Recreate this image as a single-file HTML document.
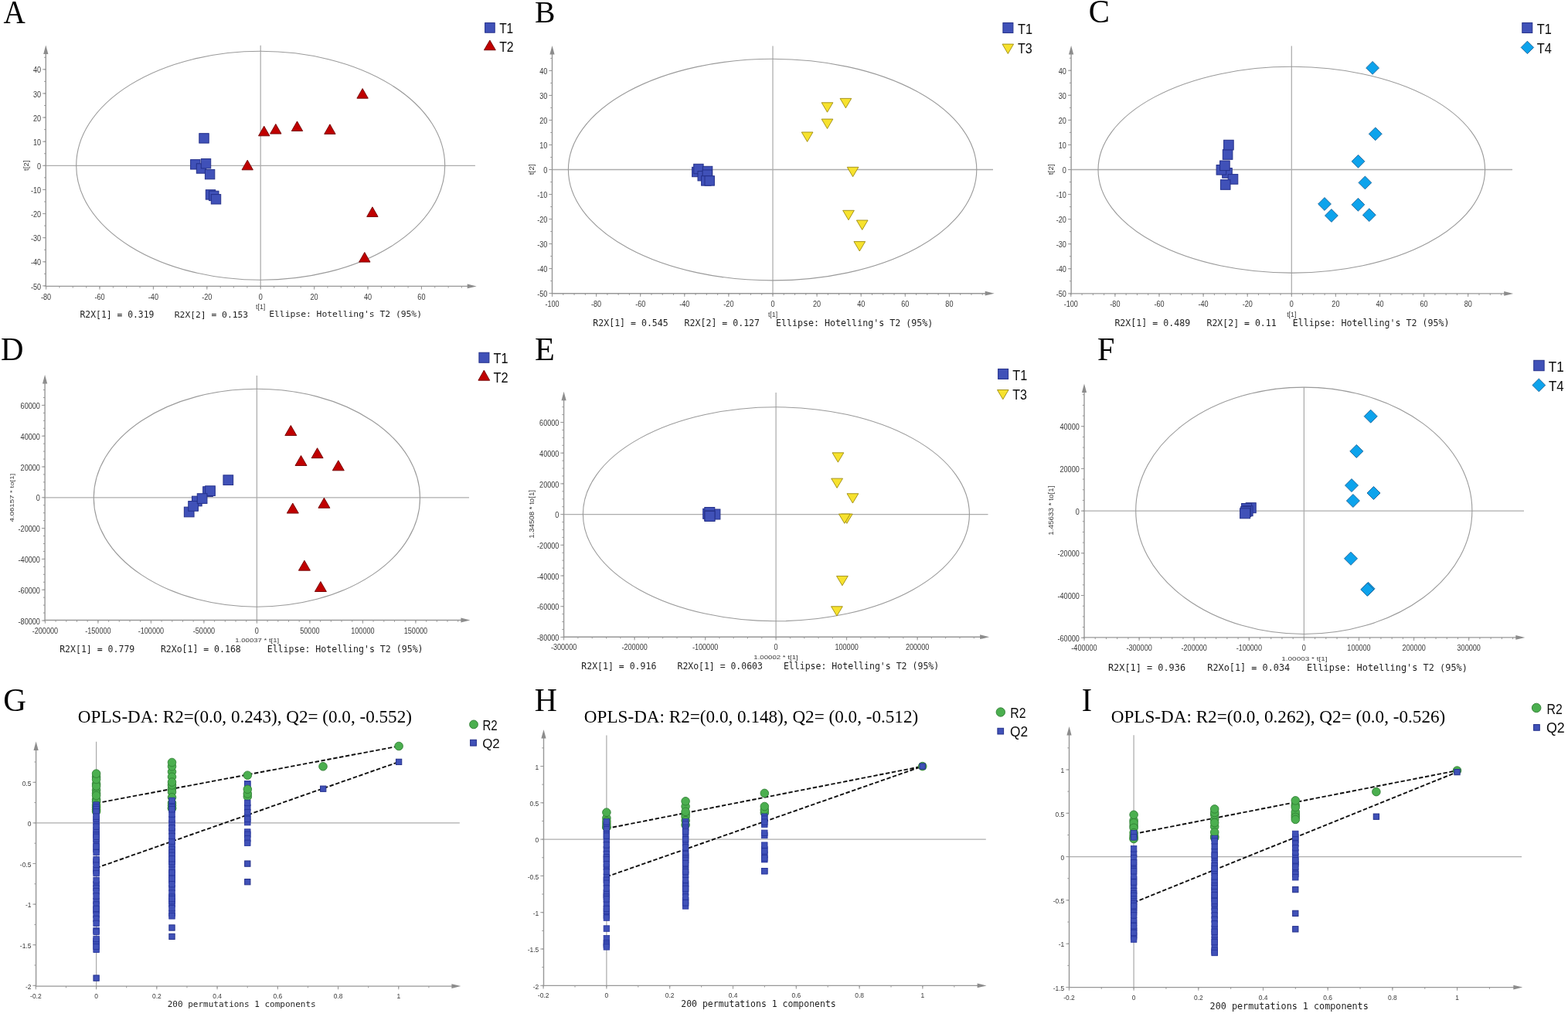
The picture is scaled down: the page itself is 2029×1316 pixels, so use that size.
<!DOCTYPE html><html><head><meta charset="utf-8"><style>html,body{margin:0;padding:0;background:#fff;}svg{display:block;}</style></head><body>
<svg width="2029" height="1316" viewBox="0 0 2029 1316">
<defs><filter id="soft" x="0" y="0" width="1" height="1" filterUnits="objectBoundingBox"><feGaussianBlur stdDeviation="0.4"/></filter></defs>
<rect width="2029" height="1316" fill="#ffffff"/>
<g filter="url(#soft)">
<rect width="2029" height="1316" fill="#ffffff"/>
<text transform="translate(4.61 29.5) scale(0.9430 1)" font-size="41.515" font-family="'Liberation Serif', 'Times New Roman', serif" fill="#000">A</text>
<text transform="translate(691.91 29.1) scale(0.9695 1)" font-size="40.909" font-family="'Liberation Serif', 'Times New Roman', serif" fill="#000">B</text>
<text transform="translate(1408.87 29.18) scale(0.9774 1)" font-size="41.642" font-family="'Liberation Serif', 'Times New Roman', serif" fill="#000">C</text>
<text transform="translate(0.98 465.8) scale(0.9709 1)" font-size="41.985" font-family="'Liberation Serif', 'Times New Roman', serif" fill="#000">D</text>
<text transform="translate(691.93 465.6) scale(1.0215 1)" font-size="41.374" font-family="'Liberation Serif', 'Times New Roman', serif" fill="#000">E</text>
<text transform="translate(1419.89 465.8) scale(0.9576 1)" font-size="41.985" font-family="'Liberation Serif', 'Times New Roman', serif" fill="#000">F</text>
<text transform="translate(4.25 919.69) scale(0.9937 1)" font-size="41.493" font-family="'Liberation Serif', 'Times New Roman', serif" fill="#000">G</text>
<text transform="translate(691.79 919.8) scale(0.9599 1)" font-size="41.985" font-family="'Liberation Serif', 'Times New Roman', serif" fill="#000">H</text>
<text transform="translate(1399.8 919.6) scale(0.9597 1)" font-size="41.679" font-family="'Liberation Serif', 'Times New Roman', serif" fill="#000">I</text>
<line x1="337.2" y1="58.8" x2="337.2" y2="370.4" stroke="#acacac" stroke-width="1.25"/>
<line x1="59.3" y1="214.3" x2="614.9" y2="214.3" stroke="#acacac" stroke-width="1.35"/>
<line x1="59.3" y1="65.8" x2="59.3" y2="371" stroke="#979797" stroke-width="1.4"/>
<line x1="58.7" y1="370.4" x2="608.9" y2="370.4" stroke="#979797" stroke-width="1.4"/>
<polygon points="59.3,58.6 62.4,70.1 56.2,70.1" fill="#8c8c8c"/>
<polygon points="616.7,370.4 604.7,367.5 604.7,373.3" fill="#8c8c8c"/>
<path d="M57.1 369.9H59.3M57.1 354.34H59.3M57.1 338.78H59.3M57.1 323.22H59.3M57.1 307.66H59.3M57.1 292.1H59.3M57.1 276.54H59.3M57.1 260.98H59.3M57.1 245.42H59.3M57.1 229.86H59.3M57.1 214.3H59.3M57.1 198.74H59.3M57.1 183.18H59.3M57.1 167.62H59.3M57.1 152.06H59.3M57.1 136.5H59.3M57.1 120.94H59.3M57.1 105.38H59.3M57.1 89.82H59.3M57.1 74.26H59.3M55.1 369.9H59.3M55.1 338.78H59.3M55.1 307.66H59.3M55.1 276.54H59.3M55.1 245.42H59.3M55.1 214.3H59.3M55.1 183.18H59.3M55.1 152.06H59.3M55.1 120.94H59.3M55.1 89.82H59.3M59.6 370.4V372.6M76.95 370.4V372.6M94.3 370.4V372.6M111.65 370.4V372.6M129 370.4V372.6M146.35 370.4V372.6M163.7 370.4V372.6M181.05 370.4V372.6M198.4 370.4V372.6M215.75 370.4V372.6M233.1 370.4V372.6M250.45 370.4V372.6M267.8 370.4V372.6M285.15 370.4V372.6M302.5 370.4V372.6M319.85 370.4V372.6M337.2 370.4V372.6M354.55 370.4V372.6M371.9 370.4V372.6M389.25 370.4V372.6M406.6 370.4V372.6M423.95 370.4V372.6M441.3 370.4V372.6M458.65 370.4V372.6M476 370.4V372.6M493.35 370.4V372.6M510.7 370.4V372.6M528.05 370.4V372.6M545.4 370.4V372.6M562.75 370.4V372.6M580.1 370.4V372.6M597.45 370.4V372.6M59.6 370.4V374.6M129 370.4V374.6M198.4 370.4V374.6M267.8 370.4V374.6M337.2 370.4V374.6M406.6 370.4V374.6M476 370.4V374.6M545.4 370.4V374.6" stroke="#979797" stroke-width="1" fill="none"/>
<text transform="translate(53.1 374.5) scale(0.91 1)" font-size="10.0" font-family="'Liberation Sans', 'DejaVu Sans', sans-serif" text-anchor="end" fill="#3a3a3a">-50</text>
<text transform="translate(53.1 343.38) scale(0.91 1)" font-size="10.0" font-family="'Liberation Sans', 'DejaVu Sans', sans-serif" text-anchor="end" fill="#3a3a3a">-40</text>
<text transform="translate(53.1 312.26) scale(0.91 1)" font-size="10.0" font-family="'Liberation Sans', 'DejaVu Sans', sans-serif" text-anchor="end" fill="#3a3a3a">-30</text>
<text transform="translate(53.1 281.14) scale(0.91 1)" font-size="10.0" font-family="'Liberation Sans', 'DejaVu Sans', sans-serif" text-anchor="end" fill="#3a3a3a">-20</text>
<text transform="translate(53.1 250.02) scale(0.91 1)" font-size="10.0" font-family="'Liberation Sans', 'DejaVu Sans', sans-serif" text-anchor="end" fill="#3a3a3a">-10</text>
<text transform="translate(53.1 218.9) scale(0.91 1)" font-size="10.0" font-family="'Liberation Sans', 'DejaVu Sans', sans-serif" text-anchor="end" fill="#3a3a3a">0</text>
<text transform="translate(53.1 187.78) scale(0.91 1)" font-size="10.0" font-family="'Liberation Sans', 'DejaVu Sans', sans-serif" text-anchor="end" fill="#3a3a3a">10</text>
<text transform="translate(53.1 156.66) scale(0.91 1)" font-size="10.0" font-family="'Liberation Sans', 'DejaVu Sans', sans-serif" text-anchor="end" fill="#3a3a3a">20</text>
<text transform="translate(53.1 125.54) scale(0.91 1)" font-size="10.0" font-family="'Liberation Sans', 'DejaVu Sans', sans-serif" text-anchor="end" fill="#3a3a3a">30</text>
<text transform="translate(53.1 94.42) scale(0.91 1)" font-size="10.0" font-family="'Liberation Sans', 'DejaVu Sans', sans-serif" text-anchor="end" fill="#3a3a3a">40</text>
<text transform="translate(59.6 387.55) scale(0.91 1)" font-size="10.0" font-family="'Liberation Sans', 'DejaVu Sans', sans-serif" text-anchor="middle" fill="#3a3a3a">-80</text>
<text transform="translate(129 387.55) scale(0.91 1)" font-size="10.0" font-family="'Liberation Sans', 'DejaVu Sans', sans-serif" text-anchor="middle" fill="#3a3a3a">-60</text>
<text transform="translate(198.4 387.55) scale(0.91 1)" font-size="10.0" font-family="'Liberation Sans', 'DejaVu Sans', sans-serif" text-anchor="middle" fill="#3a3a3a">-40</text>
<text transform="translate(267.8 387.55) scale(0.91 1)" font-size="10.0" font-family="'Liberation Sans', 'DejaVu Sans', sans-serif" text-anchor="middle" fill="#3a3a3a">-20</text>
<text transform="translate(337.2 387.55) scale(0.91 1)" font-size="10.0" font-family="'Liberation Sans', 'DejaVu Sans', sans-serif" text-anchor="middle" fill="#3a3a3a">0</text>
<text transform="translate(406.6 387.55) scale(0.91 1)" font-size="10.0" font-family="'Liberation Sans', 'DejaVu Sans', sans-serif" text-anchor="middle" fill="#3a3a3a">20</text>
<text transform="translate(476 387.55) scale(0.91 1)" font-size="10.0" font-family="'Liberation Sans', 'DejaVu Sans', sans-serif" text-anchor="middle" fill="#3a3a3a">40</text>
<text transform="translate(545.4 387.55) scale(0.91 1)" font-size="10.0" font-family="'Liberation Sans', 'DejaVu Sans', sans-serif" text-anchor="middle" fill="#3a3a3a">60</text>
<ellipse cx="337.2" cy="214.3" rx="238.5" ry="148" fill="none" stroke="#9a9a9a" stroke-width="1.1"/>
<rect x="246.6" y="206.6" width="12.4" height="12.4" fill="#3f51b8" stroke="#25318a" stroke-width="1"/>
<rect x="254.3" y="211.8" width="12.4" height="12.4" fill="#3f51b8" stroke="#25318a" stroke-width="1"/>
<rect x="260.3" y="205.5" width="12.4" height="12.4" fill="#3f51b8" stroke="#25318a" stroke-width="1"/>
<rect x="265.4" y="219.4" width="12.4" height="12.4" fill="#3f51b8" stroke="#25318a" stroke-width="1"/>
<rect x="257.8" y="172.7" width="12.4" height="12.4" fill="#3f51b8" stroke="#25318a" stroke-width="1"/>
<rect x="266.3" y="245.7" width="12.4" height="12.4" fill="#3f51b8" stroke="#25318a" stroke-width="1"/>
<rect x="270.6" y="247.2" width="12.4" height="12.4" fill="#3f51b8" stroke="#25318a" stroke-width="1"/>
<rect x="273.3" y="251.6" width="12.4" height="12.4" fill="#3f51b8" stroke="#25318a" stroke-width="1"/>
<polygon points="469.1,114.6 476.3,127.2 461.9,127.2" fill="#c00000" stroke="#6e0000" stroke-width="0.9" stroke-linejoin="miter"/>
<polygon points="341.7,163.2 348.9,175.8 334.5,175.8" fill="#c00000" stroke="#6e0000" stroke-width="0.9" stroke-linejoin="miter"/>
<polygon points="356.8,160.5 364,173.1 349.6,173.1" fill="#c00000" stroke="#6e0000" stroke-width="0.9" stroke-linejoin="miter"/>
<polygon points="384.5,156.9 391.7,169.5 377.3,169.5" fill="#c00000" stroke="#6e0000" stroke-width="0.9" stroke-linejoin="miter"/>
<polygon points="426.9,160.8 434.1,173.4 419.7,173.4" fill="#c00000" stroke="#6e0000" stroke-width="0.9" stroke-linejoin="miter"/>
<polygon points="320.2,207.2 327.4,219.8 313,219.8" fill="#c00000" stroke="#6e0000" stroke-width="0.9" stroke-linejoin="miter"/>
<polygon points="481.9,267.8 489.1,280.4 474.7,280.4" fill="#c00000" stroke="#6e0000" stroke-width="0.9" stroke-linejoin="miter"/>
<polygon points="471.8,326.5 479,339.1 464.6,339.1" fill="#c00000" stroke="#6e0000" stroke-width="0.9" stroke-linejoin="miter"/>
<g transform="rotate(-90)"><text transform="translate(-220.95 36.56) scale(1.1139 1)" font-size="8.770" font-family="'Liberation Sans', 'DejaVu Sans', sans-serif" fill="#3a3a3a">t[2]</text></g>
<text x="337.2" y="400.3" font-size="8.8" font-family="'Liberation Sans', 'DejaVu Sans', sans-serif" text-anchor="middle" fill="#3a3a3a">t[1]</text>
<text x="103.5" y="410.5" font-size="11.399" font-family="'DejaVu Sans Mono', 'Liberation Mono', monospace" fill="#1e1e1e">R2X[1] = 0.319</text>
<text x="225.81" y="410.5" font-size="11.329" font-family="'DejaVu Sans Mono', 'Liberation Mono', monospace" fill="#1e1e1e">R2X[2] = 0.153</text>
<text x="348.22" y="410.4" font-size="11.338" font-family="'DejaVu Sans Mono', 'Liberation Mono', monospace" fill="#1e1e1e">Ellipse: Hotelling's T2 (95%)</text>
<rect x="627.6" y="29.6" width="12.6" height="12.6" fill="#3f51b8" stroke="#25318a" stroke-width="1"/>
<text transform="translate(646.19 43.2) scale(0.8741 1)" font-size="17.681" font-family="'Liberation Sans', 'DejaVu Sans', sans-serif" fill="#0a0a0a">T1</text>
<polygon points="633.85,52.05 641.3,64.75 626.4,64.75" fill="#c00000" stroke="#6e0000" stroke-width="0.9" stroke-linejoin="miter"/>
<text transform="translate(646.18 67.2) scale(0.8847 1)" font-size="17.857" font-family="'Liberation Sans', 'DejaVu Sans', sans-serif" fill="#0a0a0a">T2</text>
<line x1="1000" y1="59.6" x2="1000" y2="379.7" stroke="#acacac" stroke-width="1.25"/>
<line x1="714.5" y1="219.5" x2="1285" y2="219.5" stroke="#acacac" stroke-width="1.35"/>
<line x1="714.5" y1="66.3" x2="714.5" y2="380.3" stroke="#979797" stroke-width="1.4"/>
<line x1="713.9" y1="379.7" x2="1278.9" y2="379.7" stroke="#979797" stroke-width="1.4"/>
<polygon points="714.5,59.1 717.6,70.6 711.4,70.6" fill="#8c8c8c"/>
<polygon points="1286.7,379.7 1274.7,376.8 1274.7,382.6" fill="#8c8c8c"/>
<path d="M712.3 379.6H714.5M712.3 363.59H714.5M712.3 347.58H714.5M712.3 331.57H714.5M712.3 315.56H714.5M712.3 299.55H714.5M712.3 283.54H714.5M712.3 267.53H714.5M712.3 251.52H714.5M712.3 235.51H714.5M712.3 219.5H714.5M712.3 203.49H714.5M712.3 187.48H714.5M712.3 171.47H714.5M712.3 155.46H714.5M712.3 139.45H714.5M712.3 123.44H714.5M712.3 107.43H714.5M712.3 91.42H714.5M712.3 75.41H714.5M710.3 379.6H714.5M710.3 347.58H714.5M710.3 315.56H714.5M710.3 283.54H714.5M710.3 251.52H714.5M710.3 219.5H714.5M710.3 187.48H714.5M710.3 155.46H714.5M710.3 123.44H714.5M710.3 91.42H714.5M714.5 379.7V381.9M728.77 379.7V381.9M743.05 379.7V381.9M757.33 379.7V381.9M771.6 379.7V381.9M785.88 379.7V381.9M800.15 379.7V381.9M814.42 379.7V381.9M828.7 379.7V381.9M842.98 379.7V381.9M857.25 379.7V381.9M871.52 379.7V381.9M885.8 379.7V381.9M900.08 379.7V381.9M914.35 379.7V381.9M928.62 379.7V381.9M942.9 379.7V381.9M957.17 379.7V381.9M971.45 379.7V381.9M985.73 379.7V381.9M1000 379.7V381.9M1014.27 379.7V381.9M1028.55 379.7V381.9M1042.83 379.7V381.9M1057.1 379.7V381.9M1071.38 379.7V381.9M1085.65 379.7V381.9M1099.92 379.7V381.9M1114.2 379.7V381.9M1128.47 379.7V381.9M1142.75 379.7V381.9M1157.03 379.7V381.9M1171.3 379.7V381.9M1185.58 379.7V381.9M1199.85 379.7V381.9M1214.12 379.7V381.9M1228.4 379.7V381.9M1242.67 379.7V381.9M1256.95 379.7V381.9M1271.22 379.7V381.9M714.5 379.7V383.9M771.6 379.7V383.9M828.7 379.7V383.9M885.8 379.7V383.9M942.9 379.7V383.9M1000 379.7V383.9M1057.1 379.7V383.9M1114.2 379.7V383.9M1171.3 379.7V383.9M1228.4 379.7V383.9" stroke="#979797" stroke-width="1" fill="none"/>
<text transform="translate(708.3 384.2) scale(0.91 1)" font-size="10.0" font-family="'Liberation Sans', 'DejaVu Sans', sans-serif" text-anchor="end" fill="#3a3a3a">-50</text>
<text transform="translate(708.3 352.18) scale(0.91 1)" font-size="10.0" font-family="'Liberation Sans', 'DejaVu Sans', sans-serif" text-anchor="end" fill="#3a3a3a">-40</text>
<text transform="translate(708.3 320.16) scale(0.91 1)" font-size="10.0" font-family="'Liberation Sans', 'DejaVu Sans', sans-serif" text-anchor="end" fill="#3a3a3a">-30</text>
<text transform="translate(708.3 288.14) scale(0.91 1)" font-size="10.0" font-family="'Liberation Sans', 'DejaVu Sans', sans-serif" text-anchor="end" fill="#3a3a3a">-20</text>
<text transform="translate(708.3 256.12) scale(0.91 1)" font-size="10.0" font-family="'Liberation Sans', 'DejaVu Sans', sans-serif" text-anchor="end" fill="#3a3a3a">-10</text>
<text transform="translate(708.3 224.1) scale(0.91 1)" font-size="10.0" font-family="'Liberation Sans', 'DejaVu Sans', sans-serif" text-anchor="end" fill="#3a3a3a">0</text>
<text transform="translate(708.3 192.08) scale(0.91 1)" font-size="10.0" font-family="'Liberation Sans', 'DejaVu Sans', sans-serif" text-anchor="end" fill="#3a3a3a">10</text>
<text transform="translate(708.3 160.06) scale(0.91 1)" font-size="10.0" font-family="'Liberation Sans', 'DejaVu Sans', sans-serif" text-anchor="end" fill="#3a3a3a">20</text>
<text transform="translate(708.3 128.04) scale(0.91 1)" font-size="10.0" font-family="'Liberation Sans', 'DejaVu Sans', sans-serif" text-anchor="end" fill="#3a3a3a">30</text>
<text transform="translate(708.3 96.02) scale(0.91 1)" font-size="10.0" font-family="'Liberation Sans', 'DejaVu Sans', sans-serif" text-anchor="end" fill="#3a3a3a">40</text>
<text transform="translate(714.5 396.85) scale(0.91 1)" font-size="10.0" font-family="'Liberation Sans', 'DejaVu Sans', sans-serif" text-anchor="middle" fill="#3a3a3a">-100</text>
<text transform="translate(771.6 396.85) scale(0.91 1)" font-size="10.0" font-family="'Liberation Sans', 'DejaVu Sans', sans-serif" text-anchor="middle" fill="#3a3a3a">-80</text>
<text transform="translate(828.7 396.85) scale(0.91 1)" font-size="10.0" font-family="'Liberation Sans', 'DejaVu Sans', sans-serif" text-anchor="middle" fill="#3a3a3a">-60</text>
<text transform="translate(885.8 396.85) scale(0.91 1)" font-size="10.0" font-family="'Liberation Sans', 'DejaVu Sans', sans-serif" text-anchor="middle" fill="#3a3a3a">-40</text>
<text transform="translate(942.9 396.85) scale(0.91 1)" font-size="10.0" font-family="'Liberation Sans', 'DejaVu Sans', sans-serif" text-anchor="middle" fill="#3a3a3a">-20</text>
<text transform="translate(1000 396.85) scale(0.91 1)" font-size="10.0" font-family="'Liberation Sans', 'DejaVu Sans', sans-serif" text-anchor="middle" fill="#3a3a3a">0</text>
<text transform="translate(1057.1 396.85) scale(0.91 1)" font-size="10.0" font-family="'Liberation Sans', 'DejaVu Sans', sans-serif" text-anchor="middle" fill="#3a3a3a">20</text>
<text transform="translate(1114.2 396.85) scale(0.91 1)" font-size="10.0" font-family="'Liberation Sans', 'DejaVu Sans', sans-serif" text-anchor="middle" fill="#3a3a3a">40</text>
<text transform="translate(1171.3 396.85) scale(0.91 1)" font-size="10.0" font-family="'Liberation Sans', 'DejaVu Sans', sans-serif" text-anchor="middle" fill="#3a3a3a">60</text>
<text transform="translate(1228.4 396.85) scale(0.91 1)" font-size="10.0" font-family="'Liberation Sans', 'DejaVu Sans', sans-serif" text-anchor="middle" fill="#3a3a3a">80</text>
<ellipse cx="999.6" cy="219.6" rx="264.2" ry="143.3" fill="none" stroke="#9a9a9a" stroke-width="1.1"/>
<rect x="895.6" y="216.3" width="12.4" height="12.4" fill="#3f51b8" stroke="#25318a" stroke-width="1"/>
<rect x="897.7" y="212.3" width="12.4" height="12.4" fill="#3f51b8" stroke="#25318a" stroke-width="1"/>
<rect x="903" y="221.5" width="12.4" height="12.4" fill="#3f51b8" stroke="#25318a" stroke-width="1"/>
<rect x="909.4" y="215.3" width="12.4" height="12.4" fill="#3f51b8" stroke="#25318a" stroke-width="1"/>
<rect x="909.1" y="219.9" width="12.4" height="12.4" fill="#3f51b8" stroke="#25318a" stroke-width="1"/>
<rect x="907.6" y="227.7" width="12.4" height="12.4" fill="#3f51b8" stroke="#25318a" stroke-width="1"/>
<rect x="912" y="227.7" width="12.4" height="12.4" fill="#3f51b8" stroke="#25318a" stroke-width="1"/>
<polygon points="1063.15,132.8 1077.85,132.8 1070.5,145.2" fill="#f7e22e" stroke="#9c8a12" stroke-width="0.9"/>
<polygon points="1087.05,127.4 1101.75,127.4 1094.4,139.8" fill="#f7e22e" stroke="#9c8a12" stroke-width="0.9"/>
<polygon points="1063.15,154.1 1077.85,154.1 1070.5,166.5" fill="#f7e22e" stroke="#9c8a12" stroke-width="0.9"/>
<polygon points="1037.25,171 1051.95,171 1044.6,183.4" fill="#f7e22e" stroke="#9c8a12" stroke-width="0.9"/>
<polygon points="1096.25,216.3 1110.95,216.3 1103.6,228.7" fill="#f7e22e" stroke="#9c8a12" stroke-width="0.9"/>
<polygon points="1090.65,272.3 1105.35,272.3 1098,284.7" fill="#f7e22e" stroke="#9c8a12" stroke-width="0.9"/>
<polygon points="1108.35,285 1123.05,285 1115.7,297.4" fill="#f7e22e" stroke="#9c8a12" stroke-width="0.9"/>
<polygon points="1104.95,312.6 1119.65,312.6 1112.3,325" fill="#f7e22e" stroke="#9c8a12" stroke-width="0.9"/>
<g transform="rotate(-90)"><text transform="translate(-226.25 690.71) scale(1.1302 1)" font-size="8.984" font-family="'Liberation Sans', 'DejaVu Sans', sans-serif" fill="#3a3a3a">t[2]</text></g>
<text x="1000" y="409.9" font-size="8.8" font-family="'Liberation Sans', 'DejaVu Sans', sans-serif" text-anchor="middle" fill="#3a3a3a">t[1]</text>
<text x="767.29" y="421.6" font-size="11.577" font-family="'DejaVu Sans Mono', 'Liberation Mono', monospace" fill="#1e1e1e">R2X[1] = 0.545</text>
<text x="885.59" y="421.6" font-size="11.570" font-family="'DejaVu Sans Mono', 'Liberation Mono', monospace" fill="#1e1e1e">R2X[2] = 0.127</text>
<text x="1003.89" y="421.6" font-size="11.670" font-family="'DejaVu Sans Mono', 'Liberation Mono', monospace" fill="#1e1e1e">Ellipse: Hotelling's T2 (95%)</text>
<rect x="1297.9" y="29.55" width="13" height="13" fill="#3f51b8" stroke="#25318a" stroke-width="1"/>
<text transform="translate(1316.97 43.6) scale(0.8961 1)" font-size="18.261" font-family="'Liberation Sans', 'DejaVu Sans', sans-serif" fill="#0a0a0a">T1</text>
<polygon points="1297,57.1 1311.6,57.1 1304.3,69.5" fill="#f7e22e" stroke="#9c8a12" stroke-width="0.9"/>
<text transform="translate(1316.98 68.71) scale(0.8599 1)" font-size="18.732" font-family="'Liberation Sans', 'DejaVu Sans', sans-serif" fill="#0a0a0a">T3</text>
<line x1="1671.3" y1="59.6" x2="1671.3" y2="379.9" stroke="#acacac" stroke-width="1.25"/>
<line x1="1386.1" y1="219.5" x2="1957" y2="219.5" stroke="#acacac" stroke-width="1.35"/>
<line x1="1386.1" y1="66.2" x2="1386.1" y2="380.5" stroke="#979797" stroke-width="1.4"/>
<line x1="1385.5" y1="379.9" x2="1950.4" y2="379.9" stroke="#979797" stroke-width="1.4"/>
<polygon points="1386.1,59 1389.2,70.5 1383,70.5" fill="#8c8c8c"/>
<polygon points="1958.2,379.9 1946.2,377 1946.2,382.8" fill="#8c8c8c"/>
<path d="M1383.9 379.85H1386.1M1383.9 363.81H1386.1M1383.9 347.78H1386.1M1383.9 331.75H1386.1M1383.9 315.71H1386.1M1383.9 299.68H1386.1M1383.9 283.64H1386.1M1383.9 267.61H1386.1M1383.9 251.57H1386.1M1383.9 235.53H1386.1M1383.9 219.5H1386.1M1383.9 203.47H1386.1M1383.9 187.43H1386.1M1383.9 171.4H1386.1M1383.9 155.36H1386.1M1383.9 139.32H1386.1M1383.9 123.29H1386.1M1383.9 107.26H1386.1M1383.9 91.22H1386.1M1383.9 75.19H1386.1M1381.9 379.85H1386.1M1381.9 347.78H1386.1M1381.9 315.71H1386.1M1381.9 283.64H1386.1M1381.9 251.57H1386.1M1381.9 219.5H1386.1M1381.9 187.43H1386.1M1381.9 155.36H1386.1M1381.9 123.29H1386.1M1381.9 91.22H1386.1M1385.8 379.9V382.1M1400.07 379.9V382.1M1414.35 379.9V382.1M1428.62 379.9V382.1M1442.9 379.9V382.1M1457.17 379.9V382.1M1471.45 379.9V382.1M1485.72 379.9V382.1M1500 379.9V382.1M1514.27 379.9V382.1M1528.55 379.9V382.1M1542.83 379.9V382.1M1557.1 379.9V382.1M1571.38 379.9V382.1M1585.65 379.9V382.1M1599.92 379.9V382.1M1614.2 379.9V382.1M1628.47 379.9V382.1M1642.75 379.9V382.1M1657.02 379.9V382.1M1671.3 379.9V382.1M1685.58 379.9V382.1M1699.85 379.9V382.1M1714.12 379.9V382.1M1728.4 379.9V382.1M1742.67 379.9V382.1M1756.95 379.9V382.1M1771.22 379.9V382.1M1785.5 379.9V382.1M1799.77 379.9V382.1M1814.05 379.9V382.1M1828.33 379.9V382.1M1842.6 379.9V382.1M1856.88 379.9V382.1M1871.15 379.9V382.1M1885.42 379.9V382.1M1899.7 379.9V382.1M1913.97 379.9V382.1M1928.25 379.9V382.1M1942.53 379.9V382.1M1385.8 379.9V384.1M1442.9 379.9V384.1M1500 379.9V384.1M1557.1 379.9V384.1M1614.2 379.9V384.1M1671.3 379.9V384.1M1728.4 379.9V384.1M1785.5 379.9V384.1M1842.6 379.9V384.1M1899.7 379.9V384.1" stroke="#979797" stroke-width="1" fill="none"/>
<text transform="translate(1379.9 384.45) scale(0.91 1)" font-size="10.0" font-family="'Liberation Sans', 'DejaVu Sans', sans-serif" text-anchor="end" fill="#3a3a3a">-50</text>
<text transform="translate(1379.9 352.38) scale(0.91 1)" font-size="10.0" font-family="'Liberation Sans', 'DejaVu Sans', sans-serif" text-anchor="end" fill="#3a3a3a">-40</text>
<text transform="translate(1379.9 320.31) scale(0.91 1)" font-size="10.0" font-family="'Liberation Sans', 'DejaVu Sans', sans-serif" text-anchor="end" fill="#3a3a3a">-30</text>
<text transform="translate(1379.9 288.24) scale(0.91 1)" font-size="10.0" font-family="'Liberation Sans', 'DejaVu Sans', sans-serif" text-anchor="end" fill="#3a3a3a">-20</text>
<text transform="translate(1379.9 256.17) scale(0.91 1)" font-size="10.0" font-family="'Liberation Sans', 'DejaVu Sans', sans-serif" text-anchor="end" fill="#3a3a3a">-10</text>
<text transform="translate(1379.9 224.1) scale(0.91 1)" font-size="10.0" font-family="'Liberation Sans', 'DejaVu Sans', sans-serif" text-anchor="end" fill="#3a3a3a">0</text>
<text transform="translate(1379.9 192.03) scale(0.91 1)" font-size="10.0" font-family="'Liberation Sans', 'DejaVu Sans', sans-serif" text-anchor="end" fill="#3a3a3a">10</text>
<text transform="translate(1379.9 159.96) scale(0.91 1)" font-size="10.0" font-family="'Liberation Sans', 'DejaVu Sans', sans-serif" text-anchor="end" fill="#3a3a3a">20</text>
<text transform="translate(1379.9 127.89) scale(0.91 1)" font-size="10.0" font-family="'Liberation Sans', 'DejaVu Sans', sans-serif" text-anchor="end" fill="#3a3a3a">30</text>
<text transform="translate(1379.9 95.82) scale(0.91 1)" font-size="10.0" font-family="'Liberation Sans', 'DejaVu Sans', sans-serif" text-anchor="end" fill="#3a3a3a">40</text>
<text transform="translate(1385.8 397.05) scale(0.91 1)" font-size="10.0" font-family="'Liberation Sans', 'DejaVu Sans', sans-serif" text-anchor="middle" fill="#3a3a3a">-100</text>
<text transform="translate(1442.9 397.05) scale(0.91 1)" font-size="10.0" font-family="'Liberation Sans', 'DejaVu Sans', sans-serif" text-anchor="middle" fill="#3a3a3a">-80</text>
<text transform="translate(1500 397.05) scale(0.91 1)" font-size="10.0" font-family="'Liberation Sans', 'DejaVu Sans', sans-serif" text-anchor="middle" fill="#3a3a3a">-60</text>
<text transform="translate(1557.1 397.05) scale(0.91 1)" font-size="10.0" font-family="'Liberation Sans', 'DejaVu Sans', sans-serif" text-anchor="middle" fill="#3a3a3a">-40</text>
<text transform="translate(1614.2 397.05) scale(0.91 1)" font-size="10.0" font-family="'Liberation Sans', 'DejaVu Sans', sans-serif" text-anchor="middle" fill="#3a3a3a">-20</text>
<text transform="translate(1671.3 397.05) scale(0.91 1)" font-size="10.0" font-family="'Liberation Sans', 'DejaVu Sans', sans-serif" text-anchor="middle" fill="#3a3a3a">0</text>
<text transform="translate(1728.4 397.05) scale(0.91 1)" font-size="10.0" font-family="'Liberation Sans', 'DejaVu Sans', sans-serif" text-anchor="middle" fill="#3a3a3a">20</text>
<text transform="translate(1785.5 397.05) scale(0.91 1)" font-size="10.0" font-family="'Liberation Sans', 'DejaVu Sans', sans-serif" text-anchor="middle" fill="#3a3a3a">40</text>
<text transform="translate(1842.6 397.05) scale(0.91 1)" font-size="10.0" font-family="'Liberation Sans', 'DejaVu Sans', sans-serif" text-anchor="middle" fill="#3a3a3a">60</text>
<text transform="translate(1899.7 397.05) scale(0.91 1)" font-size="10.0" font-family="'Liberation Sans', 'DejaVu Sans', sans-serif" text-anchor="middle" fill="#3a3a3a">80</text>
<ellipse cx="1671.3" cy="219.7" rx="250.3" ry="133.4" fill="none" stroke="#9a9a9a" stroke-width="1.1"/>
<rect x="1581.7" y="217.6" width="12.6" height="12.6" fill="#3f51b8" stroke="#25318a" stroke-width="1"/>
<rect x="1574.1" y="213.5" width="12.6" height="12.6" fill="#3f51b8" stroke="#25318a" stroke-width="1"/>
<rect x="1578.6" y="208" width="12.6" height="12.6" fill="#3f51b8" stroke="#25318a" stroke-width="1"/>
<rect x="1582.3" y="193.7" width="12.6" height="12.6" fill="#3f51b8" stroke="#25318a" stroke-width="1"/>
<rect x="1583.6" y="181.3" width="12.6" height="12.6" fill="#3f51b8" stroke="#25318a" stroke-width="1"/>
<rect x="1589.2" y="225.6" width="12.6" height="12.6" fill="#3f51b8" stroke="#25318a" stroke-width="1"/>
<rect x="1579.4" y="232.7" width="12.6" height="12.6" fill="#3f51b8" stroke="#25318a" stroke-width="1"/>
<polygon points="1776.1,79.5 1784.5,87.9 1776.1,96.3 1767.7,87.9" fill="#0ea3ec" stroke="#175f95" stroke-width="0.9"/>
<polygon points="1779.8,164.9 1788.2,173.3 1779.8,181.7 1771.4,173.3" fill="#0ea3ec" stroke="#175f95" stroke-width="0.9"/>
<polygon points="1757.5,200.4 1765.9,208.8 1757.5,217.2 1749.1,208.8" fill="#0ea3ec" stroke="#175f95" stroke-width="0.9"/>
<polygon points="1766.4,228 1774.8,236.4 1766.4,244.8 1758,236.4" fill="#0ea3ec" stroke="#175f95" stroke-width="0.9"/>
<polygon points="1714,255.6 1722.4,264 1714,272.4 1705.6,264" fill="#0ea3ec" stroke="#175f95" stroke-width="0.9"/>
<polygon points="1757.4,256.4 1765.8,264.8 1757.4,273.2 1749,264.8" fill="#0ea3ec" stroke="#175f95" stroke-width="0.9"/>
<polygon points="1722.9,270.6 1731.3,279 1722.9,287.4 1714.5,279" fill="#0ea3ec" stroke="#175f95" stroke-width="0.9"/>
<polygon points="1771.8,269.8 1780.2,278.2 1771.8,286.6 1763.4,278.2" fill="#0ea3ec" stroke="#175f95" stroke-width="0.9"/>
<g transform="rotate(-90)"><text transform="translate(-226.25 1362.71) scale(1.1302 1)" font-size="8.984" font-family="'Liberation Sans', 'DejaVu Sans', sans-serif" fill="#3a3a3a">t[2]</text></g>
<text x="1671.3" y="410.1" font-size="8.8" font-family="'Liberation Sans', 'DejaVu Sans', sans-serif" text-anchor="middle" fill="#3a3a3a">t[1]</text>
<text x="1442.39" y="421.5" font-size="11.616" font-family="'DejaVu Sans Mono', 'Liberation Mono', monospace" fill="#1e1e1e">R2X[1] = 0.489</text>
<text x="1561.49" y="421.5" font-size="11.534" font-family="'DejaVu Sans Mono', 'Liberation Mono', monospace" fill="#1e1e1e">R2X[2] = 0.11</text>
<text x="1672.7" y="421.5" font-size="11.629" font-family="'DejaVu Sans Mono', 'Liberation Mono', monospace" fill="#1e1e1e">Ellipse: Hotelling's T2 (95%)</text>
<rect x="1969.8" y="29.55" width="13" height="13" fill="#3f51b8" stroke="#25318a" stroke-width="1"/>
<text transform="translate(1988.77 43.6) scale(0.8961 1)" font-size="18.261" font-family="'Liberation Sans', 'DejaVu Sans', sans-serif" fill="#0a0a0a">T1</text>
<polygon points="1976.4,53.2 1984.6,61.4 1976.4,69.6 1968.2,61.4" fill="#0ea3ec" stroke="#175f95" stroke-width="0.9"/>
<text transform="translate(1988.77 68.5) scale(0.8988 1)" font-size="18.261" font-family="'Liberation Sans', 'DejaVu Sans', sans-serif" fill="#0a0a0a">T4</text>
<line x1="332.4" y1="486" x2="332.4" y2="802.5" stroke="#acacac" stroke-width="1.25"/>
<line x1="58.1" y1="643.8" x2="607" y2="643.8" stroke="#acacac" stroke-width="1.35"/>
<line x1="58.1" y1="492.3" x2="58.1" y2="803.1" stroke="#979797" stroke-width="1.4"/>
<line x1="57.5" y1="802.5" x2="600.6" y2="802.5" stroke="#979797" stroke-width="1.4"/>
<polygon points="58.1,485.1 61.2,496.6 55,496.6" fill="#8c8c8c"/>
<polygon points="608.4,802.5 596.4,799.6 596.4,805.4" fill="#8c8c8c"/>
<path d="M55.9 803H58.1M55.9 793.05H58.1M55.9 783.1H58.1M55.9 773.15H58.1M55.9 763.2H58.1M55.9 753.25H58.1M55.9 743.3H58.1M55.9 733.35H58.1M55.9 723.4H58.1M55.9 713.45H58.1M55.9 703.5H58.1M55.9 693.55H58.1M55.9 683.6H58.1M55.9 673.65H58.1M55.9 663.7H58.1M55.9 653.75H58.1M55.9 643.8H58.1M55.9 633.85H58.1M55.9 623.9H58.1M55.9 613.95H58.1M55.9 604H58.1M55.9 594.05H58.1M55.9 584.1H58.1M55.9 574.15H58.1M55.9 564.2H58.1M55.9 554.25H58.1M55.9 544.3H58.1M55.9 534.35H58.1M55.9 524.4H58.1M55.9 514.45H58.1M55.9 504.5H58.1M55.9 494.55H58.1M53.9 803H58.1M53.9 763.2H58.1M53.9 723.4H58.1M53.9 683.6H58.1M53.9 643.8H58.1M53.9 604H58.1M53.9 564.2H58.1M53.9 524.4H58.1M58.4 802.5V804.7M72.1 802.5V804.7M85.8 802.5V804.7M99.5 802.5V804.7M113.2 802.5V804.7M126.9 802.5V804.7M140.6 802.5V804.7M154.3 802.5V804.7M168 802.5V804.7M181.7 802.5V804.7M195.4 802.5V804.7M209.1 802.5V804.7M222.8 802.5V804.7M236.5 802.5V804.7M250.2 802.5V804.7M263.9 802.5V804.7M277.6 802.5V804.7M291.3 802.5V804.7M305 802.5V804.7M318.7 802.5V804.7M332.4 802.5V804.7M346.1 802.5V804.7M359.8 802.5V804.7M373.5 802.5V804.7M387.2 802.5V804.7M400.9 802.5V804.7M414.6 802.5V804.7M428.3 802.5V804.7M442 802.5V804.7M455.7 802.5V804.7M469.4 802.5V804.7M483.1 802.5V804.7M496.8 802.5V804.7M510.5 802.5V804.7M524.2 802.5V804.7M537.9 802.5V804.7M551.6 802.5V804.7M565.3 802.5V804.7M579 802.5V804.7M592.7 802.5V804.7M58.4 802.5V806.7M126.9 802.5V806.7M195.4 802.5V806.7M263.9 802.5V806.7M332.4 802.5V806.7M400.9 802.5V806.7M469.4 802.5V806.7M537.9 802.5V806.7" stroke="#979797" stroke-width="1" fill="none"/>
<text transform="translate(51.9 807.6) scale(0.91 1)" font-size="10.0" font-family="'Liberation Sans', 'DejaVu Sans', sans-serif" text-anchor="end" fill="#3a3a3a">-80000</text>
<text transform="translate(51.9 767.8) scale(0.91 1)" font-size="10.0" font-family="'Liberation Sans', 'DejaVu Sans', sans-serif" text-anchor="end" fill="#3a3a3a">-60000</text>
<text transform="translate(51.9 728) scale(0.91 1)" font-size="10.0" font-family="'Liberation Sans', 'DejaVu Sans', sans-serif" text-anchor="end" fill="#3a3a3a">-40000</text>
<text transform="translate(51.9 688.2) scale(0.91 1)" font-size="10.0" font-family="'Liberation Sans', 'DejaVu Sans', sans-serif" text-anchor="end" fill="#3a3a3a">-20000</text>
<text transform="translate(51.9 648.4) scale(0.91 1)" font-size="10.0" font-family="'Liberation Sans', 'DejaVu Sans', sans-serif" text-anchor="end" fill="#3a3a3a">0</text>
<text transform="translate(51.9 608.6) scale(0.91 1)" font-size="10.0" font-family="'Liberation Sans', 'DejaVu Sans', sans-serif" text-anchor="end" fill="#3a3a3a">20000</text>
<text transform="translate(51.9 568.8) scale(0.91 1)" font-size="10.0" font-family="'Liberation Sans', 'DejaVu Sans', sans-serif" text-anchor="end" fill="#3a3a3a">40000</text>
<text transform="translate(51.9 529) scale(0.91 1)" font-size="10.0" font-family="'Liberation Sans', 'DejaVu Sans', sans-serif" text-anchor="end" fill="#3a3a3a">60000</text>
<text transform="translate(58.4 819.65) scale(0.91 1)" font-size="10.0" font-family="'Liberation Sans', 'DejaVu Sans', sans-serif" text-anchor="middle" fill="#3a3a3a">-200000</text>
<text transform="translate(126.9 819.65) scale(0.91 1)" font-size="10.0" font-family="'Liberation Sans', 'DejaVu Sans', sans-serif" text-anchor="middle" fill="#3a3a3a">-150000</text>
<text transform="translate(195.4 819.65) scale(0.91 1)" font-size="10.0" font-family="'Liberation Sans', 'DejaVu Sans', sans-serif" text-anchor="middle" fill="#3a3a3a">-100000</text>
<text transform="translate(263.9 819.65) scale(0.91 1)" font-size="10.0" font-family="'Liberation Sans', 'DejaVu Sans', sans-serif" text-anchor="middle" fill="#3a3a3a">-50000</text>
<text transform="translate(332.4 819.65) scale(0.91 1)" font-size="10.0" font-family="'Liberation Sans', 'DejaVu Sans', sans-serif" text-anchor="middle" fill="#3a3a3a">0</text>
<text transform="translate(400.9 819.65) scale(0.91 1)" font-size="10.0" font-family="'Liberation Sans', 'DejaVu Sans', sans-serif" text-anchor="middle" fill="#3a3a3a">50000</text>
<text transform="translate(469.4 819.65) scale(0.91 1)" font-size="10.0" font-family="'Liberation Sans', 'DejaVu Sans', sans-serif" text-anchor="middle" fill="#3a3a3a">100000</text>
<text transform="translate(537.9 819.65) scale(0.91 1)" font-size="10.0" font-family="'Liberation Sans', 'DejaVu Sans', sans-serif" text-anchor="middle" fill="#3a3a3a">150000</text>
<ellipse cx="332.4" cy="644.2" rx="211.1" ry="141" fill="none" stroke="#9a9a9a" stroke-width="1.1"/>
<rect x="262.65" y="629.75" width="12.7" height="12.7" fill="#3f51b8" stroke="#25318a" stroke-width="1"/>
<rect x="265.65" y="628.85" width="12.7" height="12.7" fill="#3f51b8" stroke="#25318a" stroke-width="1"/>
<rect x="248.45" y="642.15" width="12.7" height="12.7" fill="#3f51b8" stroke="#25318a" stroke-width="1"/>
<rect x="238.35" y="656.15" width="12.7" height="12.7" fill="#3f51b8" stroke="#25318a" stroke-width="1"/>
<rect x="243.75" y="648.55" width="12.7" height="12.7" fill="#3f51b8" stroke="#25318a" stroke-width="1"/>
<rect x="255.25" y="638.75" width="12.7" height="12.7" fill="#3f51b8" stroke="#25318a" stroke-width="1"/>
<rect x="288.95" y="614.85" width="12.7" height="12.7" fill="#3f51b8" stroke="#25318a" stroke-width="1"/>
<polygon points="376.3,550.5 383.8,563.5 368.8,563.5" fill="#c00000" stroke="#6e0000" stroke-width="0.9" stroke-linejoin="miter"/>
<polygon points="410.6,579.7 418.1,592.7 403.1,592.7" fill="#c00000" stroke="#6e0000" stroke-width="0.9" stroke-linejoin="miter"/>
<polygon points="389.5,589.5 397,602.5 382,602.5" fill="#c00000" stroke="#6e0000" stroke-width="0.9" stroke-linejoin="miter"/>
<polygon points="437.8,595.8 445.3,608.8 430.3,608.8" fill="#c00000" stroke="#6e0000" stroke-width="0.9" stroke-linejoin="miter"/>
<polygon points="378.8,651.1 386.3,664.1 371.3,664.1" fill="#c00000" stroke="#6e0000" stroke-width="0.9" stroke-linejoin="miter"/>
<polygon points="419.4,644.3 426.9,657.3 411.9,657.3" fill="#c00000" stroke="#6e0000" stroke-width="0.9" stroke-linejoin="miter"/>
<polygon points="393.9,725.2 401.4,738.2 386.4,738.2" fill="#c00000" stroke="#6e0000" stroke-width="0.9" stroke-linejoin="miter"/>
<polygon points="414.9,752.5 422.4,765.5 407.4,765.5" fill="#c00000" stroke="#6e0000" stroke-width="0.9" stroke-linejoin="miter"/>
<g transform="rotate(-90)"><text transform="translate(-675.49 18.49) scale(1.1890 1)" font-size="8.128" font-family="'Liberation Sans', 'DejaVu Sans', sans-serif" fill="#3a3a3a">4.06157 * to[1]</text></g>
<text transform="translate(304.28 831.23) scale(1.4720 1)" font-size="6.524" font-family="'Liberation Sans', 'DejaVu Sans', sans-serif" fill="#3a3a3a">1.00037 * t[1]</text>
<text x="77.19" y="844.3" font-size="11.520" font-family="'DejaVu Sans Mono', 'Liberation Mono', monospace" fill="#1e1e1e">R2X[1] = 0.779</text>
<text x="207.89" y="844.3" font-size="11.517" font-family="'DejaVu Sans Mono', 'Liberation Mono', monospace" fill="#1e1e1e">R2Xo[1] = 0.168</text>
<text x="345.7" y="844.3" font-size="11.577" font-family="'DejaVu Sans Mono', 'Liberation Mono', monospace" fill="#1e1e1e">Ellipse: Hotelling's T2 (95%)</text>
<rect x="619.9" y="456.25" width="13" height="13" fill="#3f51b8" stroke="#25318a" stroke-width="1"/>
<text transform="translate(638.47 470.4) scale(0.8772 1)" font-size="18.551" font-family="'Liberation Sans', 'DejaVu Sans', sans-serif" fill="#0a0a0a">T1</text>
<polygon points="626.3,479.1 633.7,492.2 618.9,492.2" fill="#c00000" stroke="#6e0000" stroke-width="0.9" stroke-linejoin="miter"/>
<text transform="translate(638.47 494.6) scale(0.8870 1)" font-size="18.429" font-family="'Liberation Sans', 'DejaVu Sans', sans-serif" fill="#0a0a0a">T2</text>
<line x1="1004.1" y1="508" x2="1004.1" y2="824.2" stroke="#acacac" stroke-width="1.25"/>
<line x1="729.6" y1="665.6" x2="1278.5" y2="665.6" stroke="#acacac" stroke-width="1.35"/>
<line x1="729.6" y1="514" x2="729.6" y2="824.8" stroke="#979797" stroke-width="1.4"/>
<line x1="729" y1="824.2" x2="1272.3" y2="824.2" stroke="#979797" stroke-width="1.4"/>
<polygon points="729.6,506.8 732.7,518.3 726.5,518.3" fill="#8c8c8c"/>
<polygon points="1280.1,824.2 1268.1,821.3 1268.1,827.1" fill="#8c8c8c"/>
<path d="M727.4 824.4H729.6M727.4 814.48H729.6M727.4 804.55H729.6M727.4 794.62H729.6M727.4 784.7H729.6M727.4 774.78H729.6M727.4 764.85H729.6M727.4 754.93H729.6M727.4 745H729.6M727.4 735.08H729.6M727.4 725.15H729.6M727.4 715.23H729.6M727.4 705.3H729.6M727.4 695.38H729.6M727.4 685.45H729.6M727.4 675.52H729.6M727.4 665.6H729.6M727.4 655.68H729.6M727.4 645.75H729.6M727.4 635.83H729.6M727.4 625.9H729.6M727.4 615.98H729.6M727.4 606.05H729.6M727.4 596.12H729.6M727.4 586.2H729.6M727.4 576.27H729.6M727.4 566.35H729.6M727.4 556.42H729.6M727.4 546.5H729.6M727.4 536.58H729.6M727.4 526.65H729.6M727.4 516.73H729.6M725.4 824.4H729.6M725.4 784.7H729.6M725.4 745H729.6M725.4 705.3H729.6M725.4 665.6H729.6M725.4 625.9H729.6M725.4 586.2H729.6M725.4 546.5H729.6M729.6 824.2V826.4M747.9 824.2V826.4M766.2 824.2V826.4M784.5 824.2V826.4M802.8 824.2V826.4M821.1 824.2V826.4M839.4 824.2V826.4M857.7 824.2V826.4M876 824.2V826.4M894.3 824.2V826.4M912.6 824.2V826.4M930.9 824.2V826.4M949.2 824.2V826.4M967.5 824.2V826.4M985.8 824.2V826.4M1004.1 824.2V826.4M1022.4 824.2V826.4M1040.7 824.2V826.4M1059 824.2V826.4M1077.3 824.2V826.4M1095.6 824.2V826.4M1113.9 824.2V826.4M1132.2 824.2V826.4M1150.5 824.2V826.4M1168.8 824.2V826.4M1187.1 824.2V826.4M1205.4 824.2V826.4M1223.7 824.2V826.4M1242 824.2V826.4M1260.3 824.2V826.4M729.6 824.2V828.4M821.1 824.2V828.4M912.6 824.2V828.4M1004.1 824.2V828.4M1095.6 824.2V828.4M1187.1 824.2V828.4" stroke="#979797" stroke-width="1" fill="none"/>
<text transform="translate(723.4 829) scale(0.91 1)" font-size="10.0" font-family="'Liberation Sans', 'DejaVu Sans', sans-serif" text-anchor="end" fill="#3a3a3a">-80000</text>
<text transform="translate(723.4 789.3) scale(0.91 1)" font-size="10.0" font-family="'Liberation Sans', 'DejaVu Sans', sans-serif" text-anchor="end" fill="#3a3a3a">-60000</text>
<text transform="translate(723.4 749.6) scale(0.91 1)" font-size="10.0" font-family="'Liberation Sans', 'DejaVu Sans', sans-serif" text-anchor="end" fill="#3a3a3a">-40000</text>
<text transform="translate(723.4 709.9) scale(0.91 1)" font-size="10.0" font-family="'Liberation Sans', 'DejaVu Sans', sans-serif" text-anchor="end" fill="#3a3a3a">-20000</text>
<text transform="translate(723.4 670.2) scale(0.91 1)" font-size="10.0" font-family="'Liberation Sans', 'DejaVu Sans', sans-serif" text-anchor="end" fill="#3a3a3a">0</text>
<text transform="translate(723.4 630.5) scale(0.91 1)" font-size="10.0" font-family="'Liberation Sans', 'DejaVu Sans', sans-serif" text-anchor="end" fill="#3a3a3a">20000</text>
<text transform="translate(723.4 590.8) scale(0.91 1)" font-size="10.0" font-family="'Liberation Sans', 'DejaVu Sans', sans-serif" text-anchor="end" fill="#3a3a3a">40000</text>
<text transform="translate(723.4 551.1) scale(0.91 1)" font-size="10.0" font-family="'Liberation Sans', 'DejaVu Sans', sans-serif" text-anchor="end" fill="#3a3a3a">60000</text>
<text transform="translate(729.6 841.35) scale(0.91 1)" font-size="10.0" font-family="'Liberation Sans', 'DejaVu Sans', sans-serif" text-anchor="middle" fill="#3a3a3a">-300000</text>
<text transform="translate(821.1 841.35) scale(0.91 1)" font-size="10.0" font-family="'Liberation Sans', 'DejaVu Sans', sans-serif" text-anchor="middle" fill="#3a3a3a">-200000</text>
<text transform="translate(912.6 841.35) scale(0.91 1)" font-size="10.0" font-family="'Liberation Sans', 'DejaVu Sans', sans-serif" text-anchor="middle" fill="#3a3a3a">-100000</text>
<text transform="translate(1004.1 841.35) scale(0.91 1)" font-size="10.0" font-family="'Liberation Sans', 'DejaVu Sans', sans-serif" text-anchor="middle" fill="#3a3a3a">0</text>
<text transform="translate(1095.6 841.35) scale(0.91 1)" font-size="10.0" font-family="'Liberation Sans', 'DejaVu Sans', sans-serif" text-anchor="middle" fill="#3a3a3a">100000</text>
<text transform="translate(1187.1 841.35) scale(0.91 1)" font-size="10.0" font-family="'Liberation Sans', 'DejaVu Sans', sans-serif" text-anchor="middle" fill="#3a3a3a">200000</text>
<ellipse cx="1004.4" cy="665.3" rx="250" ry="138.5" fill="none" stroke="#9a9a9a" stroke-width="1.1"/>
<rect x="918.9" y="659" width="13" height="13" fill="#3f51b8" stroke="#25318a" stroke-width="1"/>
<rect x="909.7" y="658.3" width="13" height="13" fill="#3f51b8" stroke="#25318a" stroke-width="1"/>
<rect x="911.8" y="656.5" width="13" height="13" fill="#3f51b8" stroke="#25318a" stroke-width="1"/>
<rect x="911.8" y="660.9" width="13" height="13" fill="#3f51b8" stroke="#25318a" stroke-width="1"/>
<rect x="912" y="661.5" width="13" height="13" fill="#3f51b8" stroke="#25318a" stroke-width="1"/>
<polygon points="1077,585.85 1091.8,585.85 1084.4,598.15" fill="#f7e22e" stroke="#9c8a12" stroke-width="0.9"/>
<polygon points="1075.7,619.15 1090.5,619.15 1083.1,631.45" fill="#f7e22e" stroke="#9c8a12" stroke-width="0.9"/>
<polygon points="1096,638.75 1110.8,638.75 1103.4,651.05" fill="#f7e22e" stroke="#9c8a12" stroke-width="0.9"/>
<polygon points="1088.4,665.05 1103.2,665.05 1095.8,677.35" fill="#f7e22e" stroke="#9c8a12" stroke-width="0.9"/>
<polygon points="1085.4,665.05 1100.2,665.05 1092.8,677.35" fill="#f7e22e" stroke="#9c8a12" stroke-width="0.9"/>
<polygon points="1082.5,745.45 1097.3,745.45 1089.9,757.75" fill="#f7e22e" stroke="#9c8a12" stroke-width="0.9"/>
<polygon points="1075.5,784.75 1090.3,784.75 1082.9,797.05" fill="#f7e22e" stroke="#9c8a12" stroke-width="0.9"/>
<g transform="rotate(-90)"><text transform="translate(-696.82 690.53) scale(1.1426 1)" font-size="8.449" font-family="'Liberation Sans', 'DejaVu Sans', sans-serif" fill="#3a3a3a">1.34508 * to[1]</text></g>
<text transform="translate(975.27 852.9) scale(1.3498 1)" font-size="7.166" font-family="'Liberation Sans', 'DejaVu Sans', sans-serif" fill="#3a3a3a">1.00002 * t[1]</text>
<text x="752.29" y="865.6" font-size="11.537" font-family="'DejaVu Sans Mono', 'Liberation Mono', monospace" fill="#1e1e1e">R2X[1] = 0.916</text>
<text x="876.5" y="865.6" font-size="11.460" font-family="'DejaVu Sans Mono', 'Liberation Mono', monospace" fill="#1e1e1e">R2Xo[1] = 0.0603</text>
<text x="1013.9" y="865.6" font-size="11.548" font-family="'DejaVu Sans Mono', 'Liberation Mono', monospace" fill="#1e1e1e">Ellipse: Hotelling's T2 (95%)</text>
<rect x="1291.6" y="477.45" width="13" height="13" fill="#3f51b8" stroke="#25318a" stroke-width="1"/>
<text transform="translate(1310.27 491.6) scale(0.8911 1)" font-size="18.261" font-family="'Liberation Sans', 'DejaVu Sans', sans-serif" fill="#0a0a0a">T1</text>
<polygon points="1290.5,504.5 1305.1,504.5 1297.8,516.8" fill="#f7e22e" stroke="#9c8a12" stroke-width="0.9"/>
<text transform="translate(1310.28 516.71) scale(0.8424 1)" font-size="19.014" font-family="'Liberation Sans', 'DejaVu Sans', sans-serif" fill="#0a0a0a">T3</text>
<line x1="1687.4" y1="501" x2="1687.4" y2="824.9" stroke="#acacac" stroke-width="1.25"/>
<line x1="1403" y1="661.1" x2="1972" y2="661.1" stroke="#acacac" stroke-width="1.35"/>
<line x1="1403" y1="503.7" x2="1403" y2="825.5" stroke="#979797" stroke-width="1.4"/>
<line x1="1402.4" y1="824.9" x2="1965.5" y2="824.9" stroke="#979797" stroke-width="1.4"/>
<polygon points="1403,496.5 1406.1,508 1399.9,508" fill="#8c8c8c"/>
<polygon points="1973.3,824.9 1961.3,822 1961.3,827.8" fill="#8c8c8c"/>
<path d="M1400.8 825.2H1403M1400.8 811.53H1403M1400.8 797.85H1403M1400.8 784.18H1403M1400.8 770.5H1403M1400.8 756.83H1403M1400.8 743.15H1403M1400.8 729.48H1403M1400.8 715.8H1403M1400.8 702.12H1403M1400.8 688.45H1403M1400.8 674.77H1403M1400.8 661.1H1403M1400.8 647.43H1403M1400.8 633.75H1403M1400.8 620.08H1403M1400.8 606.4H1403M1400.8 592.73H1403M1400.8 579.05H1403M1400.8 565.38H1403M1400.8 551.7H1403M1400.8 538.02H1403M1400.8 524.35H1403M1400.8 510.68H1403M1398.8 825.2H1403M1398.8 770.5H1403M1398.8 715.8H1403M1398.8 661.1H1403M1398.8 606.4H1403M1398.8 551.7H1403M1403 824.9V827.1M1417.22 824.9V827.1M1431.44 824.9V827.1M1445.66 824.9V827.1M1459.88 824.9V827.1M1474.1 824.9V827.1M1488.32 824.9V827.1M1502.54 824.9V827.1M1516.76 824.9V827.1M1530.98 824.9V827.1M1545.2 824.9V827.1M1559.42 824.9V827.1M1573.64 824.9V827.1M1587.86 824.9V827.1M1602.08 824.9V827.1M1616.3 824.9V827.1M1630.52 824.9V827.1M1644.74 824.9V827.1M1658.96 824.9V827.1M1673.18 824.9V827.1M1687.4 824.9V827.1M1701.62 824.9V827.1M1715.84 824.9V827.1M1730.06 824.9V827.1M1744.28 824.9V827.1M1758.5 824.9V827.1M1772.72 824.9V827.1M1786.94 824.9V827.1M1801.16 824.9V827.1M1815.38 824.9V827.1M1829.6 824.9V827.1M1843.82 824.9V827.1M1858.04 824.9V827.1M1872.26 824.9V827.1M1886.48 824.9V827.1M1900.7 824.9V827.1M1914.92 824.9V827.1M1929.14 824.9V827.1M1943.36 824.9V827.1M1957.58 824.9V827.1M1403 824.9V829.1M1474.1 824.9V829.1M1545.2 824.9V829.1M1616.3 824.9V829.1M1687.4 824.9V829.1M1758.5 824.9V829.1M1829.6 824.9V829.1M1900.7 824.9V829.1" stroke="#979797" stroke-width="1" fill="none"/>
<text transform="translate(1396.8 829.8) scale(0.91 1)" font-size="10.0" font-family="'Liberation Sans', 'DejaVu Sans', sans-serif" text-anchor="end" fill="#3a3a3a">-60000</text>
<text transform="translate(1396.8 775.1) scale(0.91 1)" font-size="10.0" font-family="'Liberation Sans', 'DejaVu Sans', sans-serif" text-anchor="end" fill="#3a3a3a">-40000</text>
<text transform="translate(1396.8 720.4) scale(0.91 1)" font-size="10.0" font-family="'Liberation Sans', 'DejaVu Sans', sans-serif" text-anchor="end" fill="#3a3a3a">-20000</text>
<text transform="translate(1396.8 665.7) scale(0.91 1)" font-size="10.0" font-family="'Liberation Sans', 'DejaVu Sans', sans-serif" text-anchor="end" fill="#3a3a3a">0</text>
<text transform="translate(1396.8 611) scale(0.91 1)" font-size="10.0" font-family="'Liberation Sans', 'DejaVu Sans', sans-serif" text-anchor="end" fill="#3a3a3a">20000</text>
<text transform="translate(1396.8 556.3) scale(0.91 1)" font-size="10.0" font-family="'Liberation Sans', 'DejaVu Sans', sans-serif" text-anchor="end" fill="#3a3a3a">40000</text>
<text transform="translate(1403 842.05) scale(0.91 1)" font-size="10.0" font-family="'Liberation Sans', 'DejaVu Sans', sans-serif" text-anchor="middle" fill="#3a3a3a">-400000</text>
<text transform="translate(1474.1 842.05) scale(0.91 1)" font-size="10.0" font-family="'Liberation Sans', 'DejaVu Sans', sans-serif" text-anchor="middle" fill="#3a3a3a">-300000</text>
<text transform="translate(1545.2 842.05) scale(0.91 1)" font-size="10.0" font-family="'Liberation Sans', 'DejaVu Sans', sans-serif" text-anchor="middle" fill="#3a3a3a">-200000</text>
<text transform="translate(1616.3 842.05) scale(0.91 1)" font-size="10.0" font-family="'Liberation Sans', 'DejaVu Sans', sans-serif" text-anchor="middle" fill="#3a3a3a">-100000</text>
<text transform="translate(1687.4 842.05) scale(0.91 1)" font-size="10.0" font-family="'Liberation Sans', 'DejaVu Sans', sans-serif" text-anchor="middle" fill="#3a3a3a">0</text>
<text transform="translate(1758.5 842.05) scale(0.91 1)" font-size="10.0" font-family="'Liberation Sans', 'DejaVu Sans', sans-serif" text-anchor="middle" fill="#3a3a3a">100000</text>
<text transform="translate(1829.6 842.05) scale(0.91 1)" font-size="10.0" font-family="'Liberation Sans', 'DejaVu Sans', sans-serif" text-anchor="middle" fill="#3a3a3a">200000</text>
<text transform="translate(1900.7 842.05) scale(0.91 1)" font-size="10.0" font-family="'Liberation Sans', 'DejaVu Sans', sans-serif" text-anchor="middle" fill="#3a3a3a">300000</text>
<ellipse cx="1687.3" cy="660.8" rx="217.6" ry="159.7" fill="none" stroke="#9a9a9a" stroke-width="1.1"/>
<rect x="1612.2" y="650.7" width="13" height="13" fill="#3f51b8" stroke="#25318a" stroke-width="1"/>
<rect x="1606.6" y="651.5" width="13" height="13" fill="#3f51b8" stroke="#25318a" stroke-width="1"/>
<rect x="1608.1" y="654.7" width="13" height="13" fill="#3f51b8" stroke="#25318a" stroke-width="1"/>
<rect x="1605.7" y="655.6" width="13" height="13" fill="#3f51b8" stroke="#25318a" stroke-width="1"/>
<rect x="1604.6" y="657.8" width="13" height="13" fill="#3f51b8" stroke="#25318a" stroke-width="1"/>
<polygon points="1773.7,530.2 1782.2,538.7 1773.7,547.2 1765.2,538.7" fill="#0ea3ec" stroke="#175f95" stroke-width="0.9"/>
<polygon points="1755.3,575.4 1763.8,583.9 1755.3,592.4 1746.8,583.9" fill="#0ea3ec" stroke="#175f95" stroke-width="0.9"/>
<polygon points="1749,619.6 1757.5,628.1 1749,636.6 1740.5,628.1" fill="#0ea3ec" stroke="#175f95" stroke-width="0.9"/>
<polygon points="1777.5,629.5 1786,638 1777.5,646.5 1769,638" fill="#0ea3ec" stroke="#175f95" stroke-width="0.9"/>
<polygon points="1750.9,639.5 1759.4,648 1750.9,656.5 1742.4,648" fill="#0ea3ec" stroke="#175f95" stroke-width="0.9"/>
<polygon points="1748,714.3 1756.5,722.8 1748,731.3 1739.5,722.8" fill="#0ea3ec" stroke="#175f95" stroke-width="0.9"/>
<polygon points="1770.5,753.3 1779,761.8 1770.5,770.3 1762,761.8" fill="#0ea3ec" stroke="#175f95" stroke-width="0.9"/>
<polygon points="1769.3,754.4 1777.8,762.9 1769.3,771.4 1760.8,762.9" fill="#0ea3ec" stroke="#175f95" stroke-width="0.9"/>
<g transform="rotate(-90)"><text transform="translate(-692.74 1362.76) scale(1.1277 1)" font-size="8.770" font-family="'Liberation Sans', 'DejaVu Sans', sans-serif" fill="#3a3a3a">1.45633 * to[1]</text></g>
<text transform="translate(1658.25 855.11) scale(1.3146 1)" font-size="7.594" font-family="'Liberation Sans', 'DejaVu Sans', sans-serif" fill="#3a3a3a">1.00003 * t[1]</text>
<text x="1433.97" y="868" font-size="11.899" font-family="'DejaVu Sans Mono', 'Liberation Mono', monospace" fill="#1e1e1e">R2X[1] = 0.936</text>
<text x="1562.37" y="868" font-size="11.845" font-family="'DejaVu Sans Mono', 'Liberation Mono', monospace" fill="#1e1e1e">R2Xo[1] = 0.034</text>
<text x="1691.07" y="868" font-size="11.921" font-family="'DejaVu Sans Mono', 'Liberation Mono', monospace" fill="#1e1e1e">Ellipse: Hotelling's T2 (95%)</text>
<rect x="1984.75" y="466.3" width="13.4" height="13.4" fill="#3f51b8" stroke="#25318a" stroke-width="1"/>
<text transform="translate(2003.86 480.7) scale(0.8867 1)" font-size="19.275" font-family="'Liberation Sans', 'DejaVu Sans', sans-serif" fill="#0a0a0a">T1</text>
<polygon points="1991.35,490.05 1999.75,498.45 1991.35,506.85 1982.95,498.45" fill="#0ea3ec" stroke="#175f95" stroke-width="0.9"/>
<text transform="translate(2004.06 505.8) scale(0.9161 1)" font-size="18.406" font-family="'Liberation Sans', 'DejaVu Sans', sans-serif" fill="#0a0a0a">T4</text>
<line x1="124.6" y1="959.7" x2="124.6" y2="1276.1" stroke="#acacac" stroke-width="1.25"/>
<line x1="46.6" y1="1064.9" x2="594.8" y2="1064.9" stroke="#acacac" stroke-width="1.35"/>
<line x1="46.6" y1="966.6" x2="46.6" y2="1276.7" stroke="#979797" stroke-width="1.4"/>
<line x1="46" y1="1276.1" x2="588.6" y2="1276.1" stroke="#979797" stroke-width="1.4"/>
<polygon points="46.6,959.4 49.7,970.9 43.5,970.9" fill="#8c8c8c"/>
<polygon points="596.4,1276.1 584.4,1273.2 584.4,1279" fill="#8c8c8c"/>
<path d="M44.4 1275.3H46.6M44.4 1249H46.6M44.4 1222.7H46.6M44.4 1196.4H46.6M44.4 1170.1H46.6M44.4 1143.8H46.6M44.4 1117.5H46.6M44.4 1091.2H46.6M44.4 1064.9H46.6M44.4 1038.6H46.6M44.4 1012.3H46.6M44.4 986H46.6M42.4 1275.3H46.6M42.4 1222.7H46.6M42.4 1170.1H46.6M42.4 1117.5H46.6M42.4 1064.9H46.6M42.4 1012.3H46.6M46.36 1276.1V1278.3M85.48 1276.1V1278.3M124.6 1276.1V1278.3M163.72 1276.1V1278.3M202.84 1276.1V1278.3M241.96 1276.1V1278.3M281.08 1276.1V1278.3M320.2 1276.1V1278.3M359.32 1276.1V1278.3M398.44 1276.1V1278.3M437.56 1276.1V1278.3M476.68 1276.1V1278.3M515.8 1276.1V1278.3M554.92 1276.1V1278.3M46.36 1276.1V1280.3M124.6 1276.1V1280.3M202.84 1276.1V1280.3M281.08 1276.1V1280.3M359.32 1276.1V1280.3M437.56 1276.1V1280.3M515.8 1276.1V1280.3" stroke="#979797" stroke-width="1" fill="none"/>
<text transform="translate(40.4 1279.55) scale(0.97 1)" font-size="8.7" font-family="'Liberation Sans', 'DejaVu Sans', sans-serif" text-anchor="end" fill="#3a3a3a">-2</text>
<text transform="translate(40.4 1226.94) scale(0.97 1)" font-size="8.7" font-family="'Liberation Sans', 'DejaVu Sans', sans-serif" text-anchor="end" fill="#3a3a3a">-1.5</text>
<text transform="translate(40.4 1174.35) scale(0.97 1)" font-size="8.7" font-family="'Liberation Sans', 'DejaVu Sans', sans-serif" text-anchor="end" fill="#3a3a3a">-1</text>
<text transform="translate(40.4 1121.74) scale(0.97 1)" font-size="8.7" font-family="'Liberation Sans', 'DejaVu Sans', sans-serif" text-anchor="end" fill="#3a3a3a">-0.5</text>
<text transform="translate(40.4 1069.14) scale(0.97 1)" font-size="8.7" font-family="'Liberation Sans', 'DejaVu Sans', sans-serif" text-anchor="end" fill="#3a3a3a">0</text>
<text transform="translate(40.4 1016.55) scale(0.97 1)" font-size="8.7" font-family="'Liberation Sans', 'DejaVu Sans', sans-serif" text-anchor="end" fill="#3a3a3a">0.5</text>
<text transform="translate(46.36 1292) scale(0.97 1)" font-size="8.7" font-family="'Liberation Sans', 'DejaVu Sans', sans-serif" text-anchor="middle" fill="#3a3a3a">-0.2</text>
<text transform="translate(124.6 1292) scale(0.97 1)" font-size="8.7" font-family="'Liberation Sans', 'DejaVu Sans', sans-serif" text-anchor="middle" fill="#3a3a3a">0</text>
<text transform="translate(202.84 1292) scale(0.97 1)" font-size="8.7" font-family="'Liberation Sans', 'DejaVu Sans', sans-serif" text-anchor="middle" fill="#3a3a3a">0.2</text>
<text transform="translate(281.08 1292) scale(0.97 1)" font-size="8.7" font-family="'Liberation Sans', 'DejaVu Sans', sans-serif" text-anchor="middle" fill="#3a3a3a">0.4</text>
<text transform="translate(359.32 1292) scale(0.97 1)" font-size="8.7" font-family="'Liberation Sans', 'DejaVu Sans', sans-serif" text-anchor="middle" fill="#3a3a3a">0.6</text>
<text transform="translate(437.56 1292) scale(0.97 1)" font-size="8.7" font-family="'Liberation Sans', 'DejaVu Sans', sans-serif" text-anchor="middle" fill="#3a3a3a">0.8</text>
<text transform="translate(515.8 1292) scale(0.97 1)" font-size="8.7" font-family="'Liberation Sans', 'DejaVu Sans', sans-serif" text-anchor="middle" fill="#3a3a3a">1</text>
<line x1="124.6" y1="1039.3" x2="516.1" y2="965.5" stroke="#111" stroke-width="1.9" stroke-dasharray="5.4 2.6"/>
<line x1="124.6" y1="1123.1" x2="516.1" y2="985.9" stroke="#111" stroke-width="1.9" stroke-dasharray="5.4 2.6"/>
<circle cx="124.6" cy="1022.27" r="5.3" fill="#4caf50" stroke="#2f7f33" stroke-width="0.9"/>
<circle cx="124.6" cy="1014.23" r="5.3" fill="#4caf50" stroke="#2f7f33" stroke-width="0.9"/>
<circle cx="124.6" cy="1044.63" r="5.3" fill="#4caf50" stroke="#2f7f33" stroke-width="0.9"/>
<circle cx="124.6" cy="1026.6" r="5.3" fill="#4caf50" stroke="#2f7f33" stroke-width="0.9"/>
<circle cx="124.6" cy="1034.43" r="5.3" fill="#4caf50" stroke="#2f7f33" stroke-width="0.9"/>
<circle cx="124.6" cy="1047.58" r="5.3" fill="#4caf50" stroke="#2f7f33" stroke-width="0.9"/>
<circle cx="124.6" cy="1037.11" r="5.3" fill="#4caf50" stroke="#2f7f33" stroke-width="0.9"/>
<circle cx="124.6" cy="1029.39" r="5.3" fill="#4caf50" stroke="#2f7f33" stroke-width="0.9"/>
<circle cx="124.6" cy="1005.22" r="5.3" fill="#4caf50" stroke="#2f7f33" stroke-width="0.9"/>
<circle cx="124.6" cy="1050" r="5.3" fill="#4caf50" stroke="#2f7f33" stroke-width="0.9"/>
<circle cx="124.6" cy="1017.09" r="5.3" fill="#4caf50" stroke="#2f7f33" stroke-width="0.9"/>
<circle cx="124.6" cy="1008.47" r="5.3" fill="#4caf50" stroke="#2f7f33" stroke-width="0.9"/>
<circle cx="124.6" cy="1041.78" r="5.3" fill="#4caf50" stroke="#2f7f33" stroke-width="0.9"/>
<circle cx="124.6" cy="1001.1" r="5.3" fill="#4caf50" stroke="#2f7f33" stroke-width="0.9"/>
<rect x="120.85" y="1074.44" width="7.5" height="7.5" fill="#3f51b8" stroke="#25339a" stroke-width="0.8"/>
<rect x="120.85" y="1037.9" width="7.5" height="7.5" fill="#3f51b8" stroke="#25339a" stroke-width="0.8"/>
<rect x="120.85" y="1069.7" width="7.5" height="7.5" fill="#3f51b8" stroke="#25339a" stroke-width="0.8"/>
<rect x="120.85" y="1060.64" width="7.5" height="7.5" fill="#3f51b8" stroke="#25339a" stroke-width="0.8"/>
<rect x="120.85" y="1076.75" width="7.5" height="7.5" fill="#3f51b8" stroke="#25339a" stroke-width="0.8"/>
<rect x="120.85" y="1055.74" width="7.5" height="7.5" fill="#3f51b8" stroke="#25339a" stroke-width="0.8"/>
<rect x="120.85" y="1095.19" width="7.5" height="7.5" fill="#3f51b8" stroke="#25339a" stroke-width="0.8"/>
<rect x="120.85" y="1065.84" width="7.5" height="7.5" fill="#3f51b8" stroke="#25339a" stroke-width="0.8"/>
<rect x="120.85" y="1099.3" width="7.5" height="7.5" fill="#3f51b8" stroke="#25339a" stroke-width="0.8"/>
<rect x="120.85" y="1040.62" width="7.5" height="7.5" fill="#3f51b8" stroke="#25339a" stroke-width="0.8"/>
<rect x="120.85" y="1087.48" width="7.5" height="7.5" fill="#3f51b8" stroke="#25339a" stroke-width="0.8"/>
<rect x="120.85" y="1043.21" width="7.5" height="7.5" fill="#3f51b8" stroke="#25339a" stroke-width="0.8"/>
<rect x="120.85" y="1082.08" width="7.5" height="7.5" fill="#3f51b8" stroke="#25339a" stroke-width="0.8"/>
<rect x="120.85" y="1046.75" width="7.5" height="7.5" fill="#3f51b8" stroke="#25339a" stroke-width="0.8"/>
<rect x="120.85" y="1052.83" width="7.5" height="7.5" fill="#3f51b8" stroke="#25339a" stroke-width="0.8"/>
<rect x="120.85" y="1079.05" width="7.5" height="7.5" fill="#3f51b8" stroke="#25339a" stroke-width="0.8"/>
<rect x="120.85" y="1091.62" width="7.5" height="7.5" fill="#3f51b8" stroke="#25339a" stroke-width="0.8"/>
<rect x="120.85" y="1123.63" width="7.5" height="7.5" fill="#3f51b8" stroke="#25339a" stroke-width="0.8"/>
<rect x="120.85" y="1120.87" width="7.5" height="7.5" fill="#3f51b8" stroke="#25339a" stroke-width="0.8"/>
<rect x="120.85" y="1110.99" width="7.5" height="7.5" fill="#3f51b8" stroke="#25339a" stroke-width="0.8"/>
<rect x="120.85" y="1115.08" width="7.5" height="7.5" fill="#3f51b8" stroke="#25339a" stroke-width="0.8"/>
<rect x="120.85" y="1126.4" width="7.5" height="7.5" fill="#3f51b8" stroke="#25339a" stroke-width="0.8"/>
<rect x="120.85" y="1108.4" width="7.5" height="7.5" fill="#3f51b8" stroke="#25339a" stroke-width="0.8"/>
<rect x="120.85" y="1174.47" width="7.5" height="7.5" fill="#3f51b8" stroke="#25339a" stroke-width="0.8"/>
<rect x="120.85" y="1179.98" width="7.5" height="7.5" fill="#3f51b8" stroke="#25339a" stroke-width="0.8"/>
<rect x="120.85" y="1185.21" width="7.5" height="7.5" fill="#3f51b8" stroke="#25339a" stroke-width="0.8"/>
<rect x="120.85" y="1191.1" width="7.5" height="7.5" fill="#3f51b8" stroke="#25339a" stroke-width="0.8"/>
<rect x="120.85" y="1140.37" width="7.5" height="7.5" fill="#3f51b8" stroke="#25339a" stroke-width="0.8"/>
<rect x="120.85" y="1145.27" width="7.5" height="7.5" fill="#3f51b8" stroke="#25339a" stroke-width="0.8"/>
<rect x="120.85" y="1149.55" width="7.5" height="7.5" fill="#3f51b8" stroke="#25339a" stroke-width="0.8"/>
<rect x="120.85" y="1135.4" width="7.5" height="7.5" fill="#3f51b8" stroke="#25339a" stroke-width="0.8"/>
<rect x="120.85" y="1162.48" width="7.5" height="7.5" fill="#3f51b8" stroke="#25339a" stroke-width="0.8"/>
<rect x="120.85" y="1166.85" width="7.5" height="7.5" fill="#3f51b8" stroke="#25339a" stroke-width="0.8"/>
<rect x="120.85" y="1155.75" width="7.5" height="7.5" fill="#3f51b8" stroke="#25339a" stroke-width="0.8"/>
<rect x="120.85" y="1172.17" width="7.5" height="7.5" fill="#3f51b8" stroke="#25339a" stroke-width="0.8"/>
<rect x="120.85" y="1200.4" width="7.5" height="7.5" fill="#3f51b8" stroke="#25339a" stroke-width="0.8"/>
<rect x="120.85" y="1202.1" width="7.5" height="7.5" fill="#3f51b8" stroke="#25339a" stroke-width="0.8"/>
<rect x="120.85" y="1225.1" width="7.5" height="7.5" fill="#3f51b8" stroke="#25339a" stroke-width="0.8"/>
<rect x="120.85" y="1217.08" width="7.5" height="7.5" fill="#3f51b8" stroke="#25339a" stroke-width="0.8"/>
<rect x="120.85" y="1221.04" width="7.5" height="7.5" fill="#3f51b8" stroke="#25339a" stroke-width="0.8"/>
<rect x="120.85" y="1213.85" width="7.5" height="7.5" fill="#3f51b8" stroke="#25339a" stroke-width="0.8"/>
<rect x="120.85" y="1211.2" width="7.5" height="7.5" fill="#3f51b8" stroke="#25339a" stroke-width="0.8"/>
<rect x="120.95" y="1261.95" width="7.3" height="7.3" fill="#3f51b8" stroke="#25318a" stroke-width="1"/>
<circle cx="222.5" cy="1020.55" r="5.3" fill="#4caf50" stroke="#2f7f33" stroke-width="0.9"/>
<circle cx="222.5" cy="1042.31" r="5.3" fill="#4caf50" stroke="#2f7f33" stroke-width="0.9"/>
<circle cx="222.5" cy="1024.84" r="5.3" fill="#4caf50" stroke="#2f7f33" stroke-width="0.9"/>
<circle cx="222.5" cy="1045.9" r="5.3" fill="#4caf50" stroke="#2f7f33" stroke-width="0.9"/>
<circle cx="222.5" cy="998.66" r="5.3" fill="#4caf50" stroke="#2f7f33" stroke-width="0.9"/>
<circle cx="222.5" cy="1045.69" r="5.3" fill="#4caf50" stroke="#2f7f33" stroke-width="0.9"/>
<circle cx="222.5" cy="1039.05" r="5.3" fill="#4caf50" stroke="#2f7f33" stroke-width="0.9"/>
<circle cx="222.5" cy="1015.97" r="5.3" fill="#4caf50" stroke="#2f7f33" stroke-width="0.9"/>
<circle cx="222.5" cy="1005.26" r="5.3" fill="#4caf50" stroke="#2f7f33" stroke-width="0.9"/>
<circle cx="222.5" cy="1031.76" r="5.3" fill="#4caf50" stroke="#2f7f33" stroke-width="0.9"/>
<circle cx="222.5" cy="991.75" r="5.3" fill="#4caf50" stroke="#2f7f33" stroke-width="0.9"/>
<circle cx="222.5" cy="1012.08" r="5.3" fill="#4caf50" stroke="#2f7f33" stroke-width="0.9"/>
<circle cx="222.5" cy="986.5" r="5.3" fill="#4caf50" stroke="#2f7f33" stroke-width="0.9"/>
<rect x="218.75" y="1166.21" width="7.5" height="7.5" fill="#3f51b8" stroke="#25339a" stroke-width="0.8"/>
<rect x="218.75" y="1037.25" width="7.5" height="7.5" fill="#3f51b8" stroke="#25339a" stroke-width="0.8"/>
<rect x="218.75" y="1061.79" width="7.5" height="7.5" fill="#3f51b8" stroke="#25339a" stroke-width="0.8"/>
<rect x="218.75" y="1178.16" width="7.5" height="7.5" fill="#3f51b8" stroke="#25339a" stroke-width="0.8"/>
<rect x="218.75" y="1090.29" width="7.5" height="7.5" fill="#3f51b8" stroke="#25339a" stroke-width="0.8"/>
<rect x="218.75" y="1145.12" width="7.5" height="7.5" fill="#3f51b8" stroke="#25339a" stroke-width="0.8"/>
<rect x="218.75" y="1095.09" width="7.5" height="7.5" fill="#3f51b8" stroke="#25339a" stroke-width="0.8"/>
<rect x="218.75" y="1135.6" width="7.5" height="7.5" fill="#3f51b8" stroke="#25339a" stroke-width="0.8"/>
<rect x="218.75" y="1128.09" width="7.5" height="7.5" fill="#3f51b8" stroke="#25339a" stroke-width="0.8"/>
<rect x="218.75" y="1121.33" width="7.5" height="7.5" fill="#3f51b8" stroke="#25339a" stroke-width="0.8"/>
<rect x="218.75" y="1099.08" width="7.5" height="7.5" fill="#3f51b8" stroke="#25339a" stroke-width="0.8"/>
<rect x="218.75" y="1140.44" width="7.5" height="7.5" fill="#3f51b8" stroke="#25339a" stroke-width="0.8"/>
<rect x="218.75" y="1114.41" width="7.5" height="7.5" fill="#3f51b8" stroke="#25339a" stroke-width="0.8"/>
<rect x="218.75" y="1125.54" width="7.5" height="7.5" fill="#3f51b8" stroke="#25339a" stroke-width="0.8"/>
<rect x="218.75" y="1133.09" width="7.5" height="7.5" fill="#3f51b8" stroke="#25339a" stroke-width="0.8"/>
<rect x="218.75" y="1032.2" width="7.5" height="7.5" fill="#3f51b8" stroke="#25339a" stroke-width="0.8"/>
<rect x="218.75" y="1111.46" width="7.5" height="7.5" fill="#3f51b8" stroke="#25339a" stroke-width="0.8"/>
<rect x="218.75" y="1056.52" width="7.5" height="7.5" fill="#3f51b8" stroke="#25339a" stroke-width="0.8"/>
<rect x="218.75" y="1151.86" width="7.5" height="7.5" fill="#3f51b8" stroke="#25339a" stroke-width="0.8"/>
<rect x="218.75" y="1071.77" width="7.5" height="7.5" fill="#3f51b8" stroke="#25339a" stroke-width="0.8"/>
<rect x="218.75" y="1084.89" width="7.5" height="7.5" fill="#3f51b8" stroke="#25339a" stroke-width="0.8"/>
<rect x="218.75" y="1181.6" width="7.5" height="7.5" fill="#3f51b8" stroke="#25339a" stroke-width="0.8"/>
<rect x="218.75" y="1049.77" width="7.5" height="7.5" fill="#3f51b8" stroke="#25339a" stroke-width="0.8"/>
<rect x="218.75" y="1040.84" width="7.5" height="7.5" fill="#3f51b8" stroke="#25339a" stroke-width="0.8"/>
<rect x="218.75" y="1078.13" width="7.5" height="7.5" fill="#3f51b8" stroke="#25339a" stroke-width="0.8"/>
<rect x="218.75" y="1156.93" width="7.5" height="7.5" fill="#3f51b8" stroke="#25339a" stroke-width="0.8"/>
<rect x="218.75" y="1162.32" width="7.5" height="7.5" fill="#3f51b8" stroke="#25339a" stroke-width="0.8"/>
<rect x="218.75" y="1103.05" width="7.5" height="7.5" fill="#3f51b8" stroke="#25339a" stroke-width="0.8"/>
<rect x="218.75" y="1107.46" width="7.5" height="7.5" fill="#3f51b8" stroke="#25339a" stroke-width="0.8"/>
<rect x="218.75" y="1159.28" width="7.5" height="7.5" fill="#3f51b8" stroke="#25339a" stroke-width="0.8"/>
<rect x="218.75" y="1043.47" width="7.5" height="7.5" fill="#3f51b8" stroke="#25339a" stroke-width="0.8"/>
<rect x="218.75" y="1067.49" width="7.5" height="7.5" fill="#3f51b8" stroke="#25339a" stroke-width="0.8"/>
<rect x="218.75" y="1171.38" width="7.5" height="7.5" fill="#3f51b8" stroke="#25339a" stroke-width="0.8"/>
<rect x="218.85" y="1196.85" width="7.3" height="7.3" fill="#3f51b8" stroke="#25318a" stroke-width="1"/>
<rect x="218.85" y="1208.25" width="7.3" height="7.3" fill="#3f51b8" stroke="#25318a" stroke-width="1"/>
<circle cx="320.3" cy="1003.2" r="5.3" fill="#4caf50" stroke="#2f7d32" stroke-width="0.9"/>
<rect x="316.55" y="1010.6" width="7.5" height="7.5" fill="#3f51b8" stroke="#25339a" stroke-width="0.8"/>
<rect x="316.55" y="1011.1" width="7.5" height="7.5" fill="#3f51b8" stroke="#25339a" stroke-width="0.8"/>
<circle cx="320.3" cy="1030.7" r="5.3" fill="#4caf50" stroke="#2f7f33" stroke-width="0.9"/>
<circle cx="320.3" cy="1026.98" r="5.3" fill="#4caf50" stroke="#2f7f33" stroke-width="0.9"/>
<circle cx="320.3" cy="1021.3" r="5.3" fill="#4caf50" stroke="#2f7f33" stroke-width="0.9"/>
<rect x="316.55" y="1053.02" width="7.5" height="7.5" fill="#3f51b8" stroke="#25339a" stroke-width="0.8"/>
<rect x="316.55" y="1060.4" width="7.5" height="7.5" fill="#3f51b8" stroke="#25339a" stroke-width="0.8"/>
<rect x="316.55" y="1041.23" width="7.5" height="7.5" fill="#3f51b8" stroke="#25339a" stroke-width="0.8"/>
<rect x="316.55" y="1056.16" width="7.5" height="7.5" fill="#3f51b8" stroke="#25339a" stroke-width="0.8"/>
<rect x="316.55" y="1035.2" width="7.5" height="7.5" fill="#3f51b8" stroke="#25339a" stroke-width="0.8"/>
<rect x="316.55" y="1047.32" width="7.5" height="7.5" fill="#3f51b8" stroke="#25339a" stroke-width="0.8"/>
<rect x="316.55" y="1072.8" width="7.5" height="7.5" fill="#3f51b8" stroke="#25339a" stroke-width="0.8"/>
<rect x="316.55" y="1076.1" width="7.5" height="7.5" fill="#3f51b8" stroke="#25339a" stroke-width="0.8"/>
<rect x="316.55" y="1081.56" width="7.5" height="7.5" fill="#3f51b8" stroke="#25339a" stroke-width="0.8"/>
<rect x="316.55" y="1087.1" width="7.5" height="7.5" fill="#3f51b8" stroke="#25339a" stroke-width="0.8"/>
<rect x="316.65" y="1113.95" width="7.3" height="7.3" fill="#3f51b8" stroke="#25318a" stroke-width="1"/>
<rect x="316.65" y="1137.55" width="7.3" height="7.3" fill="#3f51b8" stroke="#25318a" stroke-width="1"/>
<circle cx="418" cy="991.8" r="5.3" fill="#4caf50" stroke="#2f7d32" stroke-width="0.9"/>
<rect x="414.55" y="1017.05" width="7.3" height="7.3" fill="#3f51b8" stroke="#25318a" stroke-width="1"/>
<circle cx="516.1" cy="965.5" r="5.3" fill="#4caf50" stroke="#2f7d32" stroke-width="0.9"/>
<rect x="512.45" y="982.25" width="7.3" height="7.3" fill="#3f51b8" stroke="#25318a" stroke-width="1"/>
<text x="100.87" y="934.9" font-size="23.140" font-family="'Liberation Serif', 'Times New Roman', serif" fill="#000">OPLS-DA: R2=(0.0, 0.243), Q2= (0.0, -0.552)</text>
<circle cx="613" cy="937.4" r="5.4" fill="#4caf50" stroke="#2f7d32" stroke-width="0.9"/>
<text transform="translate(624.5 944.8) scale(0.8619 1)" font-size="17.429" font-family="'Liberation Sans', 'DejaVu Sans', sans-serif" fill="#0a0a0a">R2</text>
<rect x="608.6" y="957.3" width="7.8" height="7.8" fill="#3f51b8" stroke="#25318a" stroke-width="1"/>
<text transform="translate(624.14 968.1) scale(1.0001 1)" font-size="16.854" font-family="'Liberation Sans', 'DejaVu Sans', sans-serif" fill="#0a0a0a">Q2</text>
<text x="216.67" y="1302.7" font-size="11.015" font-family="'DejaVu Sans Mono', 'Liberation Mono', monospace" fill="#1e1e1e">200 permutations 1 components</text>
<line x1="784.9" y1="951.4" x2="784.9" y2="1275.4" stroke="#acacac" stroke-width="1.25"/>
<line x1="703.5" y1="1086.1" x2="1275.8" y2="1086.1" stroke="#acacac" stroke-width="1.35"/>
<line x1="703.5" y1="951.3" x2="703.5" y2="1276" stroke="#979797" stroke-width="1.4"/>
<line x1="702.9" y1="1275.4" x2="1268.8" y2="1275.4" stroke="#979797" stroke-width="1.4"/>
<polygon points="703.5,944.1 706.6,955.6 700.4,955.6" fill="#8c8c8c"/>
<polygon points="1276.6,1275.4 1264.6,1272.5 1264.6,1278.3" fill="#8c8c8c"/>
<path d="M701.3 1275.3H703.5M701.3 1251.65H703.5M701.3 1228H703.5M701.3 1204.35H703.5M701.3 1180.7H703.5M701.3 1157.05H703.5M701.3 1133.4H703.5M701.3 1109.75H703.5M701.3 1086.1H703.5M701.3 1062.45H703.5M701.3 1038.8H703.5M701.3 1015.15H703.5M701.3 991.5H703.5M701.3 967.85H703.5M699.3 1275.3H703.5M699.3 1228H703.5M699.3 1180.7H703.5M699.3 1133.4H703.5M699.3 1086.1H703.5M699.3 1038.8H703.5M699.3 991.5H703.5M703.1 1275.4V1277.6M744 1275.4V1277.6M784.9 1275.4V1277.6M825.8 1275.4V1277.6M866.7 1275.4V1277.6M907.6 1275.4V1277.6M948.5 1275.4V1277.6M989.4 1275.4V1277.6M1030.3 1275.4V1277.6M1071.2 1275.4V1277.6M1112.1 1275.4V1277.6M1153 1275.4V1277.6M1193.9 1275.4V1277.6M1234.8 1275.4V1277.6M703.1 1275.4V1279.6M784.9 1275.4V1279.6M866.7 1275.4V1279.6M948.5 1275.4V1279.6M1030.3 1275.4V1279.6M1112.1 1275.4V1279.6M1193.9 1275.4V1279.6" stroke="#979797" stroke-width="1" fill="none"/>
<text transform="translate(697.3 1279.54) scale(0.97 1)" font-size="8.7" font-family="'Liberation Sans', 'DejaVu Sans', sans-serif" text-anchor="end" fill="#3a3a3a">-2</text>
<text transform="translate(697.3 1232.24) scale(0.97 1)" font-size="8.7" font-family="'Liberation Sans', 'DejaVu Sans', sans-serif" text-anchor="end" fill="#3a3a3a">-1.5</text>
<text transform="translate(697.3 1184.94) scale(0.97 1)" font-size="8.7" font-family="'Liberation Sans', 'DejaVu Sans', sans-serif" text-anchor="end" fill="#3a3a3a">-1</text>
<text transform="translate(697.3 1137.64) scale(0.97 1)" font-size="8.7" font-family="'Liberation Sans', 'DejaVu Sans', sans-serif" text-anchor="end" fill="#3a3a3a">-0.5</text>
<text transform="translate(697.3 1090.34) scale(0.97 1)" font-size="8.7" font-family="'Liberation Sans', 'DejaVu Sans', sans-serif" text-anchor="end" fill="#3a3a3a">0</text>
<text transform="translate(697.3 1043.04) scale(0.97 1)" font-size="8.7" font-family="'Liberation Sans', 'DejaVu Sans', sans-serif" text-anchor="end" fill="#3a3a3a">0.5</text>
<text transform="translate(697.3 995.74) scale(0.97 1)" font-size="8.7" font-family="'Liberation Sans', 'DejaVu Sans', sans-serif" text-anchor="end" fill="#3a3a3a">1</text>
<text transform="translate(703.1 1291.3) scale(0.97 1)" font-size="8.7" font-family="'Liberation Sans', 'DejaVu Sans', sans-serif" text-anchor="middle" fill="#3a3a3a">-0.2</text>
<text transform="translate(784.9 1291.3) scale(0.97 1)" font-size="8.7" font-family="'Liberation Sans', 'DejaVu Sans', sans-serif" text-anchor="middle" fill="#3a3a3a">0</text>
<text transform="translate(866.7 1291.3) scale(0.97 1)" font-size="8.7" font-family="'Liberation Sans', 'DejaVu Sans', sans-serif" text-anchor="middle" fill="#3a3a3a">0.2</text>
<text transform="translate(948.5 1291.3) scale(0.97 1)" font-size="8.7" font-family="'Liberation Sans', 'DejaVu Sans', sans-serif" text-anchor="middle" fill="#3a3a3a">0.4</text>
<text transform="translate(1030.3 1291.3) scale(0.97 1)" font-size="8.7" font-family="'Liberation Sans', 'DejaVu Sans', sans-serif" text-anchor="middle" fill="#3a3a3a">0.6</text>
<text transform="translate(1112.1 1291.3) scale(0.97 1)" font-size="8.7" font-family="'Liberation Sans', 'DejaVu Sans', sans-serif" text-anchor="middle" fill="#3a3a3a">0.8</text>
<text transform="translate(1193.9 1291.3) scale(0.97 1)" font-size="8.7" font-family="'Liberation Sans', 'DejaVu Sans', sans-serif" text-anchor="middle" fill="#3a3a3a">1</text>
<line x1="784.9" y1="1072.1" x2="1193.7" y2="991.6" stroke="#111" stroke-width="1.9" stroke-dasharray="5.4 2.6"/>
<line x1="784.9" y1="1134.5" x2="1193.7" y2="991.6" stroke="#111" stroke-width="1.9" stroke-dasharray="5.4 2.6"/>
<circle cx="784.9" cy="1070.7" r="5.3" fill="#4caf50" stroke="#2f7f33" stroke-width="0.9"/>
<circle cx="784.9" cy="1058.48" r="5.3" fill="#4caf50" stroke="#2f7f33" stroke-width="0.9"/>
<circle cx="784.9" cy="1066.4" r="5.3" fill="#4caf50" stroke="#2f7f33" stroke-width="0.9"/>
<circle cx="784.9" cy="1070.03" r="5.3" fill="#4caf50" stroke="#2f7f33" stroke-width="0.9"/>
<circle cx="784.9" cy="1062.8" r="5.3" fill="#4caf50" stroke="#2f7f33" stroke-width="0.9"/>
<circle cx="784.9" cy="1051.2" r="5.3" fill="#4caf50" stroke="#2f7f33" stroke-width="0.9"/>
<rect x="781.15" y="1181.06" width="7.5" height="7.5" fill="#3f51b8" stroke="#25339a" stroke-width="0.8"/>
<rect x="781.15" y="1064.1" width="7.5" height="7.5" fill="#3f51b8" stroke="#25339a" stroke-width="0.8"/>
<rect x="781.15" y="1095.55" width="7.5" height="7.5" fill="#3f51b8" stroke="#25339a" stroke-width="0.8"/>
<rect x="781.15" y="1083.09" width="7.5" height="7.5" fill="#3f51b8" stroke="#25339a" stroke-width="0.8"/>
<rect x="781.15" y="1069.36" width="7.5" height="7.5" fill="#3f51b8" stroke="#25339a" stroke-width="0.8"/>
<rect x="781.15" y="1101.3" width="7.5" height="7.5" fill="#3f51b8" stroke="#25339a" stroke-width="0.8"/>
<rect x="781.15" y="1089.64" width="7.5" height="7.5" fill="#3f51b8" stroke="#25339a" stroke-width="0.8"/>
<rect x="781.15" y="1105.69" width="7.5" height="7.5" fill="#3f51b8" stroke="#25339a" stroke-width="0.8"/>
<rect x="781.15" y="1108.58" width="7.5" height="7.5" fill="#3f51b8" stroke="#25339a" stroke-width="0.8"/>
<rect x="781.15" y="1118.19" width="7.5" height="7.5" fill="#3f51b8" stroke="#25339a" stroke-width="0.8"/>
<rect x="781.15" y="1166.16" width="7.5" height="7.5" fill="#3f51b8" stroke="#25339a" stroke-width="0.8"/>
<rect x="781.15" y="1154.25" width="7.5" height="7.5" fill="#3f51b8" stroke="#25339a" stroke-width="0.8"/>
<rect x="781.15" y="1131.05" width="7.5" height="7.5" fill="#3f51b8" stroke="#25339a" stroke-width="0.8"/>
<rect x="781.15" y="1151.4" width="7.5" height="7.5" fill="#3f51b8" stroke="#25339a" stroke-width="0.8"/>
<rect x="781.15" y="1135.03" width="7.5" height="7.5" fill="#3f51b8" stroke="#25339a" stroke-width="0.8"/>
<rect x="781.15" y="1124.19" width="7.5" height="7.5" fill="#3f51b8" stroke="#25339a" stroke-width="0.8"/>
<rect x="781.15" y="1183.8" width="7.5" height="7.5" fill="#3f51b8" stroke="#25339a" stroke-width="0.8"/>
<rect x="781.15" y="1139.04" width="7.5" height="7.5" fill="#3f51b8" stroke="#25339a" stroke-width="0.8"/>
<rect x="781.15" y="1075.36" width="7.5" height="7.5" fill="#3f51b8" stroke="#25339a" stroke-width="0.8"/>
<rect x="781.15" y="1156.88" width="7.5" height="7.5" fill="#3f51b8" stroke="#25339a" stroke-width="0.8"/>
<rect x="781.15" y="1059.7" width="7.5" height="7.5" fill="#3f51b8" stroke="#25339a" stroke-width="0.8"/>
<rect x="781.15" y="1174.92" width="7.5" height="7.5" fill="#3f51b8" stroke="#25339a" stroke-width="0.8"/>
<rect x="781.15" y="1172.19" width="7.5" height="7.5" fill="#3f51b8" stroke="#25339a" stroke-width="0.8"/>
<rect x="781.15" y="1145.77" width="7.5" height="7.5" fill="#3f51b8" stroke="#25339a" stroke-width="0.8"/>
<rect x="781.15" y="1077.78" width="7.5" height="7.5" fill="#3f51b8" stroke="#25339a" stroke-width="0.8"/>
<rect x="781.15" y="1114.53" width="7.5" height="7.5" fill="#3f51b8" stroke="#25339a" stroke-width="0.8"/>
<rect x="781.15" y="1159.64" width="7.5" height="7.5" fill="#3f51b8" stroke="#25339a" stroke-width="0.8"/>
<rect x="781.15" y="1197.8" width="7.5" height="7.5" fill="#3f51b8" stroke="#25339a" stroke-width="0.8"/>
<rect x="781.15" y="1210.5" width="7.5" height="7.5" fill="#3f51b8" stroke="#25339a" stroke-width="0.8"/>
<rect x="781.15" y="1216.67" width="7.5" height="7.5" fill="#3f51b8" stroke="#25339a" stroke-width="0.8"/>
<rect x="781.15" y="1218.98" width="7.5" height="7.5" fill="#3f51b8" stroke="#25339a" stroke-width="0.8"/>
<rect x="781.15" y="1221.6" width="7.5" height="7.5" fill="#3f51b8" stroke="#25339a" stroke-width="0.8"/>
<circle cx="887.1" cy="1067.4" r="5.3" fill="#4caf50" stroke="#2f7f33" stroke-width="0.9"/>
<circle cx="887.1" cy="1053.48" r="5.3" fill="#4caf50" stroke="#2f7f33" stroke-width="0.9"/>
<circle cx="887.1" cy="1056.74" r="5.3" fill="#4caf50" stroke="#2f7f33" stroke-width="0.9"/>
<circle cx="887.1" cy="1043.44" r="5.3" fill="#4caf50" stroke="#2f7f33" stroke-width="0.9"/>
<circle cx="887.1" cy="1061.79" r="5.3" fill="#4caf50" stroke="#2f7f33" stroke-width="0.9"/>
<circle cx="887.1" cy="1050.33" r="5.3" fill="#4caf50" stroke="#2f7f33" stroke-width="0.9"/>
<circle cx="887.1" cy="1036.8" r="5.3" fill="#4caf50" stroke="#2f7f33" stroke-width="0.9"/>
<rect x="883.35" y="1104.43" width="7.5" height="7.5" fill="#3f51b8" stroke="#25339a" stroke-width="0.8"/>
<rect x="883.35" y="1059.7" width="7.5" height="7.5" fill="#3f51b8" stroke="#25339a" stroke-width="0.8"/>
<rect x="883.35" y="1161.34" width="7.5" height="7.5" fill="#3f51b8" stroke="#25339a" stroke-width="0.8"/>
<rect x="883.35" y="1168.7" width="7.5" height="7.5" fill="#3f51b8" stroke="#25339a" stroke-width="0.8"/>
<rect x="883.35" y="1115.53" width="7.5" height="7.5" fill="#3f51b8" stroke="#25339a" stroke-width="0.8"/>
<rect x="883.35" y="1139.84" width="7.5" height="7.5" fill="#3f51b8" stroke="#25339a" stroke-width="0.8"/>
<rect x="883.35" y="1122" width="7.5" height="7.5" fill="#3f51b8" stroke="#25339a" stroke-width="0.8"/>
<rect x="883.35" y="1099.19" width="7.5" height="7.5" fill="#3f51b8" stroke="#25339a" stroke-width="0.8"/>
<rect x="883.35" y="1077.83" width="7.5" height="7.5" fill="#3f51b8" stroke="#25339a" stroke-width="0.8"/>
<rect x="883.35" y="1164.58" width="7.5" height="7.5" fill="#3f51b8" stroke="#25339a" stroke-width="0.8"/>
<rect x="883.35" y="1134.81" width="7.5" height="7.5" fill="#3f51b8" stroke="#25339a" stroke-width="0.8"/>
<rect x="883.35" y="1150.77" width="7.5" height="7.5" fill="#3f51b8" stroke="#25339a" stroke-width="0.8"/>
<rect x="883.35" y="1127.95" width="7.5" height="7.5" fill="#3f51b8" stroke="#25339a" stroke-width="0.8"/>
<rect x="883.35" y="1142.84" width="7.5" height="7.5" fill="#3f51b8" stroke="#25339a" stroke-width="0.8"/>
<rect x="883.35" y="1062.41" width="7.5" height="7.5" fill="#3f51b8" stroke="#25339a" stroke-width="0.8"/>
<rect x="883.35" y="1146.23" width="7.5" height="7.5" fill="#3f51b8" stroke="#25339a" stroke-width="0.8"/>
<rect x="883.35" y="1086.89" width="7.5" height="7.5" fill="#3f51b8" stroke="#25339a" stroke-width="0.8"/>
<rect x="883.35" y="1067.5" width="7.5" height="7.5" fill="#3f51b8" stroke="#25339a" stroke-width="0.8"/>
<rect x="883.35" y="1101.47" width="7.5" height="7.5" fill="#3f51b8" stroke="#25339a" stroke-width="0.8"/>
<rect x="883.35" y="1156.8" width="7.5" height="7.5" fill="#3f51b8" stroke="#25339a" stroke-width="0.8"/>
<rect x="883.35" y="1106.64" width="7.5" height="7.5" fill="#3f51b8" stroke="#25339a" stroke-width="0.8"/>
<rect x="883.35" y="1070.1" width="7.5" height="7.5" fill="#3f51b8" stroke="#25339a" stroke-width="0.8"/>
<rect x="883.35" y="1109.13" width="7.5" height="7.5" fill="#3f51b8" stroke="#25339a" stroke-width="0.8"/>
<rect x="883.35" y="1072.41" width="7.5" height="7.5" fill="#3f51b8" stroke="#25339a" stroke-width="0.8"/>
<rect x="883.35" y="1113.39" width="7.5" height="7.5" fill="#3f51b8" stroke="#25339a" stroke-width="0.8"/>
<rect x="883.35" y="1082.48" width="7.5" height="7.5" fill="#3f51b8" stroke="#25339a" stroke-width="0.8"/>
<rect x="883.35" y="1124.32" width="7.5" height="7.5" fill="#3f51b8" stroke="#25339a" stroke-width="0.8"/>
<rect x="883.35" y="1092.77" width="7.5" height="7.5" fill="#3f51b8" stroke="#25339a" stroke-width="0.8"/>
<circle cx="989.3" cy="1026.4" r="5.3" fill="#4caf50" stroke="#2f7d32" stroke-width="0.9"/>
<circle cx="989.3" cy="1051.7" r="5.3" fill="#4caf50" stroke="#2f7f33" stroke-width="0.9"/>
<circle cx="989.3" cy="1047.99" r="5.3" fill="#4caf50" stroke="#2f7f33" stroke-width="0.9"/>
<circle cx="989.3" cy="1043.5" r="5.3" fill="#4caf50" stroke="#2f7f33" stroke-width="0.9"/>
<rect x="985.55" y="1063.1" width="7.5" height="7.5" fill="#3f51b8" stroke="#25339a" stroke-width="0.8"/>
<rect x="985.55" y="1053" width="7.5" height="7.5" fill="#3f51b8" stroke="#25339a" stroke-width="0.8"/>
<rect x="985.55" y="1055.81" width="7.5" height="7.5" fill="#3f51b8" stroke="#25339a" stroke-width="0.8"/>
<rect x="985.55" y="1059.96" width="7.5" height="7.5" fill="#3f51b8" stroke="#25339a" stroke-width="0.8"/>
<rect x="985.55" y="1077.2" width="7.5" height="7.5" fill="#3f51b8" stroke="#25339a" stroke-width="0.8"/>
<rect x="985.55" y="1074.1" width="7.5" height="7.5" fill="#3f51b8" stroke="#25339a" stroke-width="0.8"/>
<rect x="985.55" y="1095.51" width="7.5" height="7.5" fill="#3f51b8" stroke="#25339a" stroke-width="0.8"/>
<rect x="985.55" y="1089.9" width="7.5" height="7.5" fill="#3f51b8" stroke="#25339a" stroke-width="0.8"/>
<rect x="985.55" y="1102.38" width="7.5" height="7.5" fill="#3f51b8" stroke="#25339a" stroke-width="0.8"/>
<rect x="985.55" y="1108.4" width="7.5" height="7.5" fill="#3f51b8" stroke="#25339a" stroke-width="0.8"/>
<rect x="985.55" y="1106.58" width="7.5" height="7.5" fill="#3f51b8" stroke="#25339a" stroke-width="0.8"/>
<rect x="985.55" y="1097.61" width="7.5" height="7.5" fill="#3f51b8" stroke="#25339a" stroke-width="0.8"/>
<rect x="985.55" y="1123.4" width="7.5" height="7.5" fill="#3f51b8" stroke="#25339a" stroke-width="0.8"/>
<rect x="985.55" y="1123.4" width="7.5" height="7.5" fill="#3f51b8" stroke="#25339a" stroke-width="0.8"/>
<circle cx="1193.7" cy="991.6" r="5.3" fill="#4caf50" stroke="#2f7d32" stroke-width="0.9"/>
<rect x="1190.05" y="987.95" width="7.3" height="7.3" fill="#3f51b8" stroke="#25318a" stroke-width="1"/>
<text x="755.87" y="935.2" font-size="23.151" font-family="'Liberation Serif', 'Times New Roman', serif" fill="#000">OPLS-DA: R2=(0.0, 0.148), Q2= (0.0, -0.512)</text>
<circle cx="1294.8" cy="921.5" r="5.7" fill="#4caf50" stroke="#2f7d32" stroke-width="0.9"/>
<text transform="translate(1307.34 928.9) scale(0.8713 1)" font-size="18.143" font-family="'Liberation Sans', 'DejaVu Sans', sans-serif" fill="#0a0a0a">R2</text>
<rect x="1290.9" y="942.3" width="7.7" height="7.7" fill="#3f51b8" stroke="#25318a" stroke-width="1"/>
<text transform="translate(1307.12 953.26) scale(0.9585 1)" font-size="18.090" font-family="'Liberation Sans', 'DejaVu Sans', sans-serif" fill="#0a0a0a">Q2</text>
<text x="881.24" y="1303.1" font-size="11.496" font-family="'DejaVu Sans Mono', 'Liberation Mono', monospace" fill="#1e1e1e">200 permutations 1 components</text>
<line x1="1467.1" y1="951.3" x2="1467.1" y2="1277.6" stroke="#acacac" stroke-width="1.25"/>
<line x1="1383.5" y1="1108.6" x2="1969.1" y2="1108.6" stroke="#acacac" stroke-width="1.35"/>
<line x1="1383.5" y1="947.2" x2="1383.5" y2="1278.2" stroke="#979797" stroke-width="1.4"/>
<line x1="1382.9" y1="1277.6" x2="1962.5" y2="1277.6" stroke="#979797" stroke-width="1.4"/>
<polygon points="1383.5,940 1386.6,951.5 1380.4,951.5" fill="#8c8c8c"/>
<polygon points="1970.3,1277.6 1958.3,1274.7 1958.3,1280.5" fill="#8c8c8c"/>
<path d="M1381.3 1277.5H1383.5M1381.3 1249.35H1383.5M1381.3 1221.2H1383.5M1381.3 1193.05H1383.5M1381.3 1164.9H1383.5M1381.3 1136.75H1383.5M1381.3 1108.6H1383.5M1381.3 1080.45H1383.5M1381.3 1052.3H1383.5M1381.3 1024.15H1383.5M1381.3 996H1383.5M1381.3 967.85H1383.5M1379.3 1277.5H1383.5M1379.3 1221.2H1383.5M1379.3 1164.9H1383.5M1379.3 1108.6H1383.5M1379.3 1052.3H1383.5M1379.3 996H1383.5M1383.4 1277.6V1279.8M1425.25 1277.6V1279.8M1467.1 1277.6V1279.8M1508.95 1277.6V1279.8M1550.8 1277.6V1279.8M1592.65 1277.6V1279.8M1634.5 1277.6V1279.8M1676.35 1277.6V1279.8M1718.2 1277.6V1279.8M1760.05 1277.6V1279.8M1801.9 1277.6V1279.8M1843.75 1277.6V1279.8M1885.6 1277.6V1279.8M1927.45 1277.6V1279.8M1383.4 1277.6V1281.8M1467.1 1277.6V1281.8M1550.8 1277.6V1281.8M1634.5 1277.6V1281.8M1718.2 1277.6V1281.8M1801.9 1277.6V1281.8M1885.6 1277.6V1281.8" stroke="#979797" stroke-width="1" fill="none"/>
<text transform="translate(1377.3 1281.74) scale(0.97 1)" font-size="8.7" font-family="'Liberation Sans', 'DejaVu Sans', sans-serif" text-anchor="end" fill="#3a3a3a">-1.5</text>
<text transform="translate(1377.3 1225.44) scale(0.97 1)" font-size="8.7" font-family="'Liberation Sans', 'DejaVu Sans', sans-serif" text-anchor="end" fill="#3a3a3a">-1</text>
<text transform="translate(1377.3 1169.14) scale(0.97 1)" font-size="8.7" font-family="'Liberation Sans', 'DejaVu Sans', sans-serif" text-anchor="end" fill="#3a3a3a">-0.5</text>
<text transform="translate(1377.3 1112.84) scale(0.97 1)" font-size="8.7" font-family="'Liberation Sans', 'DejaVu Sans', sans-serif" text-anchor="end" fill="#3a3a3a">0</text>
<text transform="translate(1377.3 1056.54) scale(0.97 1)" font-size="8.7" font-family="'Liberation Sans', 'DejaVu Sans', sans-serif" text-anchor="end" fill="#3a3a3a">0.5</text>
<text transform="translate(1377.3 1000.24) scale(0.97 1)" font-size="8.7" font-family="'Liberation Sans', 'DejaVu Sans', sans-serif" text-anchor="end" fill="#3a3a3a">1</text>
<text transform="translate(1383.4 1293.5) scale(0.97 1)" font-size="8.7" font-family="'Liberation Sans', 'DejaVu Sans', sans-serif" text-anchor="middle" fill="#3a3a3a">-0.2</text>
<text transform="translate(1467.1 1293.5) scale(0.97 1)" font-size="8.7" font-family="'Liberation Sans', 'DejaVu Sans', sans-serif" text-anchor="middle" fill="#3a3a3a">0</text>
<text transform="translate(1550.8 1293.5) scale(0.97 1)" font-size="8.7" font-family="'Liberation Sans', 'DejaVu Sans', sans-serif" text-anchor="middle" fill="#3a3a3a">0.2</text>
<text transform="translate(1634.5 1293.5) scale(0.97 1)" font-size="8.7" font-family="'Liberation Sans', 'DejaVu Sans', sans-serif" text-anchor="middle" fill="#3a3a3a">0.4</text>
<text transform="translate(1718.2 1293.5) scale(0.97 1)" font-size="8.7" font-family="'Liberation Sans', 'DejaVu Sans', sans-serif" text-anchor="middle" fill="#3a3a3a">0.6</text>
<text transform="translate(1801.9 1293.5) scale(0.97 1)" font-size="8.7" font-family="'Liberation Sans', 'DejaVu Sans', sans-serif" text-anchor="middle" fill="#3a3a3a">0.8</text>
<text transform="translate(1885.6 1293.5) scale(0.97 1)" font-size="8.7" font-family="'Liberation Sans', 'DejaVu Sans', sans-serif" text-anchor="middle" fill="#3a3a3a">1</text>
<line x1="1467.1" y1="1079.1" x2="1885.5" y2="997.1" stroke="#111" stroke-width="1.9" stroke-dasharray="5.4 2.6"/>
<line x1="1467.1" y1="1167.8" x2="1885.5" y2="999.1" stroke="#111" stroke-width="1.9" stroke-dasharray="5.4 2.6"/>
<circle cx="1467.1" cy="1061.66" r="5.3" fill="#4caf50" stroke="#2f7f33" stroke-width="0.9"/>
<circle cx="1467.1" cy="1081.46" r="5.3" fill="#4caf50" stroke="#2f7f33" stroke-width="0.9"/>
<circle cx="1467.1" cy="1068.51" r="5.3" fill="#4caf50" stroke="#2f7f33" stroke-width="0.9"/>
<circle cx="1467.1" cy="1084.6" r="5.3" fill="#4caf50" stroke="#2f7f33" stroke-width="0.9"/>
<circle cx="1467.1" cy="1085.5" r="5.3" fill="#4caf50" stroke="#2f7f33" stroke-width="0.9"/>
<circle cx="1467.1" cy="1064.68" r="5.3" fill="#4caf50" stroke="#2f7f33" stroke-width="0.9"/>
<circle cx="1467.1" cy="1071.21" r="5.3" fill="#4caf50" stroke="#2f7f33" stroke-width="0.9"/>
<circle cx="1467.1" cy="1077.6" r="5.3" fill="#4caf50" stroke="#2f7f33" stroke-width="0.9"/>
<circle cx="1467.1" cy="1054.3" r="5.3" fill="#4caf50" stroke="#2f7f33" stroke-width="0.9"/>
<rect x="1463.35" y="1079.23" width="7.5" height="7.5" fill="#3f51b8" stroke="#25339a" stroke-width="0.8"/>
<rect x="1463.35" y="1076.95" width="7.5" height="7.5" fill="#3f51b8" stroke="#25339a" stroke-width="0.8"/>
<rect x="1463.35" y="1074.5" width="7.5" height="7.5" fill="#3f51b8" stroke="#25339a" stroke-width="0.8"/>
<rect x="1463.35" y="1079.6" width="7.5" height="7.5" fill="#3f51b8" stroke="#25339a" stroke-width="0.8"/>
<rect x="1463.35" y="1170.6" width="7.5" height="7.5" fill="#3f51b8" stroke="#25339a" stroke-width="0.8"/>
<rect x="1463.35" y="1201.07" width="7.5" height="7.5" fill="#3f51b8" stroke="#25339a" stroke-width="0.8"/>
<rect x="1463.35" y="1173.61" width="7.5" height="7.5" fill="#3f51b8" stroke="#25339a" stroke-width="0.8"/>
<rect x="1463.35" y="1114.89" width="7.5" height="7.5" fill="#3f51b8" stroke="#25339a" stroke-width="0.8"/>
<rect x="1463.35" y="1134.09" width="7.5" height="7.5" fill="#3f51b8" stroke="#25339a" stroke-width="0.8"/>
<rect x="1463.35" y="1101.29" width="7.5" height="7.5" fill="#3f51b8" stroke="#25339a" stroke-width="0.8"/>
<rect x="1463.35" y="1094.6" width="7.5" height="7.5" fill="#3f51b8" stroke="#25339a" stroke-width="0.8"/>
<rect x="1463.35" y="1189.94" width="7.5" height="7.5" fill="#3f51b8" stroke="#25339a" stroke-width="0.8"/>
<rect x="1463.35" y="1186.49" width="7.5" height="7.5" fill="#3f51b8" stroke="#25339a" stroke-width="0.8"/>
<rect x="1463.35" y="1106.46" width="7.5" height="7.5" fill="#3f51b8" stroke="#25339a" stroke-width="0.8"/>
<rect x="1463.35" y="1142.55" width="7.5" height="7.5" fill="#3f51b8" stroke="#25339a" stroke-width="0.8"/>
<rect x="1463.35" y="1149.18" width="7.5" height="7.5" fill="#3f51b8" stroke="#25339a" stroke-width="0.8"/>
<rect x="1463.35" y="1197.33" width="7.5" height="7.5" fill="#3f51b8" stroke="#25339a" stroke-width="0.8"/>
<rect x="1463.35" y="1121.17" width="7.5" height="7.5" fill="#3f51b8" stroke="#25339a" stroke-width="0.8"/>
<rect x="1463.35" y="1194.44" width="7.5" height="7.5" fill="#3f51b8" stroke="#25339a" stroke-width="0.8"/>
<rect x="1463.35" y="1208.49" width="7.5" height="7.5" fill="#3f51b8" stroke="#25339a" stroke-width="0.8"/>
<rect x="1463.35" y="1137.78" width="7.5" height="7.5" fill="#3f51b8" stroke="#25339a" stroke-width="0.8"/>
<rect x="1463.35" y="1206.41" width="7.5" height="7.5" fill="#3f51b8" stroke="#25339a" stroke-width="0.8"/>
<rect x="1463.35" y="1152.52" width="7.5" height="7.5" fill="#3f51b8" stroke="#25339a" stroke-width="0.8"/>
<rect x="1463.35" y="1211.8" width="7.5" height="7.5" fill="#3f51b8" stroke="#25339a" stroke-width="0.8"/>
<rect x="1463.35" y="1203.16" width="7.5" height="7.5" fill="#3f51b8" stroke="#25339a" stroke-width="0.8"/>
<rect x="1463.35" y="1155.17" width="7.5" height="7.5" fill="#3f51b8" stroke="#25339a" stroke-width="0.8"/>
<rect x="1463.35" y="1177.17" width="7.5" height="7.5" fill="#3f51b8" stroke="#25339a" stroke-width="0.8"/>
<rect x="1463.35" y="1180.69" width="7.5" height="7.5" fill="#3f51b8" stroke="#25339a" stroke-width="0.8"/>
<rect x="1463.35" y="1112.47" width="7.5" height="7.5" fill="#3f51b8" stroke="#25339a" stroke-width="0.8"/>
<rect x="1463.35" y="1159.8" width="7.5" height="7.5" fill="#3f51b8" stroke="#25339a" stroke-width="0.8"/>
<rect x="1463.35" y="1129.82" width="7.5" height="7.5" fill="#3f51b8" stroke="#25339a" stroke-width="0.8"/>
<rect x="1463.35" y="1162.99" width="7.5" height="7.5" fill="#3f51b8" stroke="#25339a" stroke-width="0.8"/>
<rect x="1463.35" y="1165.54" width="7.5" height="7.5" fill="#3f51b8" stroke="#25339a" stroke-width="0.8"/>
<rect x="1463.35" y="1123.51" width="7.5" height="7.5" fill="#3f51b8" stroke="#25339a" stroke-width="0.8"/>
<rect x="1463.35" y="1168.35" width="7.5" height="7.5" fill="#3f51b8" stroke="#25339a" stroke-width="0.8"/>
<circle cx="1571.7" cy="1082.44" r="5.3" fill="#4caf50" stroke="#2f7f33" stroke-width="0.9"/>
<circle cx="1571.7" cy="1083.9" r="5.3" fill="#4caf50" stroke="#2f7f33" stroke-width="0.9"/>
<circle cx="1571.7" cy="1069.59" r="5.3" fill="#4caf50" stroke="#2f7f33" stroke-width="0.9"/>
<circle cx="1571.7" cy="1060.16" r="5.3" fill="#4caf50" stroke="#2f7f33" stroke-width="0.9"/>
<circle cx="1571.7" cy="1076.95" r="5.3" fill="#4caf50" stroke="#2f7f33" stroke-width="0.9"/>
<circle cx="1571.7" cy="1054.33" r="5.3" fill="#4caf50" stroke="#2f7f33" stroke-width="0.9"/>
<circle cx="1571.7" cy="1064.56" r="5.3" fill="#4caf50" stroke="#2f7f33" stroke-width="0.9"/>
<circle cx="1571.7" cy="1051.55" r="5.3" fill="#4caf50" stroke="#2f7f33" stroke-width="0.9"/>
<circle cx="1571.7" cy="1046.9" r="5.3" fill="#4caf50" stroke="#2f7f33" stroke-width="0.9"/>
<rect x="1567.95" y="1156.63" width="7.5" height="7.5" fill="#3f51b8" stroke="#25339a" stroke-width="0.8"/>
<rect x="1567.95" y="1106.15" width="7.5" height="7.5" fill="#3f51b8" stroke="#25339a" stroke-width="0.8"/>
<rect x="1567.95" y="1198.02" width="7.5" height="7.5" fill="#3f51b8" stroke="#25339a" stroke-width="0.8"/>
<rect x="1567.95" y="1112.97" width="7.5" height="7.5" fill="#3f51b8" stroke="#25339a" stroke-width="0.8"/>
<rect x="1567.95" y="1122.31" width="7.5" height="7.5" fill="#3f51b8" stroke="#25339a" stroke-width="0.8"/>
<rect x="1567.95" y="1228.33" width="7.5" height="7.5" fill="#3f51b8" stroke="#25339a" stroke-width="0.8"/>
<rect x="1567.95" y="1142.63" width="7.5" height="7.5" fill="#3f51b8" stroke="#25339a" stroke-width="0.8"/>
<rect x="1567.95" y="1147.98" width="7.5" height="7.5" fill="#3f51b8" stroke="#25339a" stroke-width="0.8"/>
<rect x="1567.95" y="1144.66" width="7.5" height="7.5" fill="#3f51b8" stroke="#25339a" stroke-width="0.8"/>
<rect x="1567.95" y="1150.43" width="7.5" height="7.5" fill="#3f51b8" stroke="#25339a" stroke-width="0.8"/>
<rect x="1567.95" y="1126.22" width="7.5" height="7.5" fill="#3f51b8" stroke="#25339a" stroke-width="0.8"/>
<rect x="1567.95" y="1170.36" width="7.5" height="7.5" fill="#3f51b8" stroke="#25339a" stroke-width="0.8"/>
<rect x="1567.95" y="1220.89" width="7.5" height="7.5" fill="#3f51b8" stroke="#25339a" stroke-width="0.8"/>
<rect x="1567.95" y="1175.01" width="7.5" height="7.5" fill="#3f51b8" stroke="#25339a" stroke-width="0.8"/>
<rect x="1567.95" y="1138.11" width="7.5" height="7.5" fill="#3f51b8" stroke="#25339a" stroke-width="0.8"/>
<rect x="1567.95" y="1135.11" width="7.5" height="7.5" fill="#3f51b8" stroke="#25339a" stroke-width="0.8"/>
<rect x="1567.95" y="1098.19" width="7.5" height="7.5" fill="#3f51b8" stroke="#25339a" stroke-width="0.8"/>
<rect x="1567.95" y="1130.59" width="7.5" height="7.5" fill="#3f51b8" stroke="#25339a" stroke-width="0.8"/>
<rect x="1567.95" y="1102.92" width="7.5" height="7.5" fill="#3f51b8" stroke="#25339a" stroke-width="0.8"/>
<rect x="1567.95" y="1212.52" width="7.5" height="7.5" fill="#3f51b8" stroke="#25339a" stroke-width="0.8"/>
<rect x="1567.95" y="1081.2" width="7.5" height="7.5" fill="#3f51b8" stroke="#25339a" stroke-width="0.8"/>
<rect x="1567.95" y="1091.33" width="7.5" height="7.5" fill="#3f51b8" stroke="#25339a" stroke-width="0.8"/>
<rect x="1567.95" y="1116.52" width="7.5" height="7.5" fill="#3f51b8" stroke="#25339a" stroke-width="0.8"/>
<rect x="1567.95" y="1158.75" width="7.5" height="7.5" fill="#3f51b8" stroke="#25339a" stroke-width="0.8"/>
<rect x="1567.95" y="1205.6" width="7.5" height="7.5" fill="#3f51b8" stroke="#25339a" stroke-width="0.8"/>
<rect x="1567.95" y="1201.97" width="7.5" height="7.5" fill="#3f51b8" stroke="#25339a" stroke-width="0.8"/>
<rect x="1567.95" y="1165.43" width="7.5" height="7.5" fill="#3f51b8" stroke="#25339a" stroke-width="0.8"/>
<rect x="1567.95" y="1180.76" width="7.5" height="7.5" fill="#3f51b8" stroke="#25339a" stroke-width="0.8"/>
<rect x="1567.95" y="1154.43" width="7.5" height="7.5" fill="#3f51b8" stroke="#25339a" stroke-width="0.8"/>
<rect x="1567.95" y="1162.27" width="7.5" height="7.5" fill="#3f51b8" stroke="#25339a" stroke-width="0.8"/>
<rect x="1567.95" y="1186.05" width="7.5" height="7.5" fill="#3f51b8" stroke="#25339a" stroke-width="0.8"/>
<rect x="1567.95" y="1084.52" width="7.5" height="7.5" fill="#3f51b8" stroke="#25339a" stroke-width="0.8"/>
<rect x="1567.95" y="1226.11" width="7.5" height="7.5" fill="#3f51b8" stroke="#25339a" stroke-width="0.8"/>
<rect x="1567.95" y="1120.3" width="7.5" height="7.5" fill="#3f51b8" stroke="#25339a" stroke-width="0.8"/>
<rect x="1567.95" y="1229.2" width="7.5" height="7.5" fill="#3f51b8" stroke="#25339a" stroke-width="0.8"/>
<rect x="1567.95" y="1191.63" width="7.5" height="7.5" fill="#3f51b8" stroke="#25339a" stroke-width="0.8"/>
<rect x="1567.95" y="1215.27" width="7.5" height="7.5" fill="#3f51b8" stroke="#25339a" stroke-width="0.8"/>
<circle cx="1676.3" cy="1041.7" r="5.3" fill="#4caf50" stroke="#2f7f33" stroke-width="0.9"/>
<circle cx="1676.3" cy="1054.47" r="5.3" fill="#4caf50" stroke="#2f7f33" stroke-width="0.9"/>
<circle cx="1676.3" cy="1050.71" r="5.3" fill="#4caf50" stroke="#2f7f33" stroke-width="0.9"/>
<circle cx="1676.3" cy="1057.34" r="5.3" fill="#4caf50" stroke="#2f7f33" stroke-width="0.9"/>
<circle cx="1676.3" cy="1044.53" r="5.3" fill="#4caf50" stroke="#2f7f33" stroke-width="0.9"/>
<circle cx="1676.3" cy="1060.4" r="5.3" fill="#4caf50" stroke="#2f7f33" stroke-width="0.9"/>
<circle cx="1676.3" cy="1035.9" r="5.3" fill="#4caf50" stroke="#2f7f33" stroke-width="0.9"/>
<rect x="1672.55" y="1123.64" width="7.5" height="7.5" fill="#3f51b8" stroke="#25339a" stroke-width="0.8"/>
<rect x="1672.55" y="1104.32" width="7.5" height="7.5" fill="#3f51b8" stroke="#25339a" stroke-width="0.8"/>
<rect x="1672.55" y="1111.92" width="7.5" height="7.5" fill="#3f51b8" stroke="#25339a" stroke-width="0.8"/>
<rect x="1672.55" y="1114.65" width="7.5" height="7.5" fill="#3f51b8" stroke="#25339a" stroke-width="0.8"/>
<rect x="1672.55" y="1083.58" width="7.5" height="7.5" fill="#3f51b8" stroke="#25339a" stroke-width="0.8"/>
<rect x="1672.55" y="1117.92" width="7.5" height="7.5" fill="#3f51b8" stroke="#25339a" stroke-width="0.8"/>
<rect x="1672.55" y="1099.23" width="7.5" height="7.5" fill="#3f51b8" stroke="#25339a" stroke-width="0.8"/>
<rect x="1672.55" y="1087.98" width="7.5" height="7.5" fill="#3f51b8" stroke="#25339a" stroke-width="0.8"/>
<rect x="1672.55" y="1079.67" width="7.5" height="7.5" fill="#3f51b8" stroke="#25339a" stroke-width="0.8"/>
<rect x="1672.55" y="1093.4" width="7.5" height="7.5" fill="#3f51b8" stroke="#25339a" stroke-width="0.8"/>
<rect x="1672.55" y="1127.16" width="7.5" height="7.5" fill="#3f51b8" stroke="#25339a" stroke-width="0.8"/>
<rect x="1672.55" y="1131.5" width="7.5" height="7.5" fill="#3f51b8" stroke="#25339a" stroke-width="0.8"/>
<rect x="1672.55" y="1109.53" width="7.5" height="7.5" fill="#3f51b8" stroke="#25339a" stroke-width="0.8"/>
<rect x="1672.55" y="1075.2" width="7.5" height="7.5" fill="#3f51b8" stroke="#25339a" stroke-width="0.8"/>
<rect x="1672.65" y="1147.45" width="7.3" height="7.3" fill="#3f51b8" stroke="#25318a" stroke-width="1"/>
<rect x="1672.65" y="1178.25" width="7.3" height="7.3" fill="#3f51b8" stroke="#25318a" stroke-width="1"/>
<rect x="1672.65" y="1198.65" width="7.3" height="7.3" fill="#3f51b8" stroke="#25318a" stroke-width="1"/>
<circle cx="1780.9" cy="1024.6" r="5.3" fill="#4caf50" stroke="#2f7d32" stroke-width="0.9"/>
<rect x="1777.25" y="1053.05" width="7.3" height="7.3" fill="#3f51b8" stroke="#25318a" stroke-width="1"/>
<circle cx="1885.5" cy="997.1" r="5.3" fill="#4caf50" stroke="#2f7d32" stroke-width="0.9"/>
<rect x="1881.85" y="995.45" width="7.3" height="7.3" fill="#3f51b8" stroke="#25318a" stroke-width="1"/>
<text x="1437.67" y="934.9" font-size="23.172" font-family="'Liberation Serif', 'Times New Roman', serif" fill="#000">OPLS-DA: R2=(0.0, 0.262), Q2= (0.0, -0.526)</text>
<circle cx="1988.15" cy="915.95" r="5.8" fill="#4caf50" stroke="#2f7d32" stroke-width="0.9"/>
<text transform="translate(2001.54 923.7) scale(0.8713 1)" font-size="18.143" font-family="'Liberation Sans', 'DejaVu Sans', sans-serif" fill="#0a0a0a">R2</text>
<rect x="1984.6" y="937.55" width="7.7" height="7.7" fill="#3f51b8" stroke="#25318a" stroke-width="1"/>
<text transform="translate(2000.89 948.28) scale(0.9959 1)" font-size="17.978" font-family="'Liberation Sans', 'DejaVu Sans', sans-serif" fill="#0a0a0a">Q2</text>
<text x="1565.62" y="1306.3" font-size="11.756" font-family="'DejaVu Sans Mono', 'Liberation Mono', monospace" fill="#1e1e1e">200 permutations 1 components</text>
</g>
</svg></body></html>
